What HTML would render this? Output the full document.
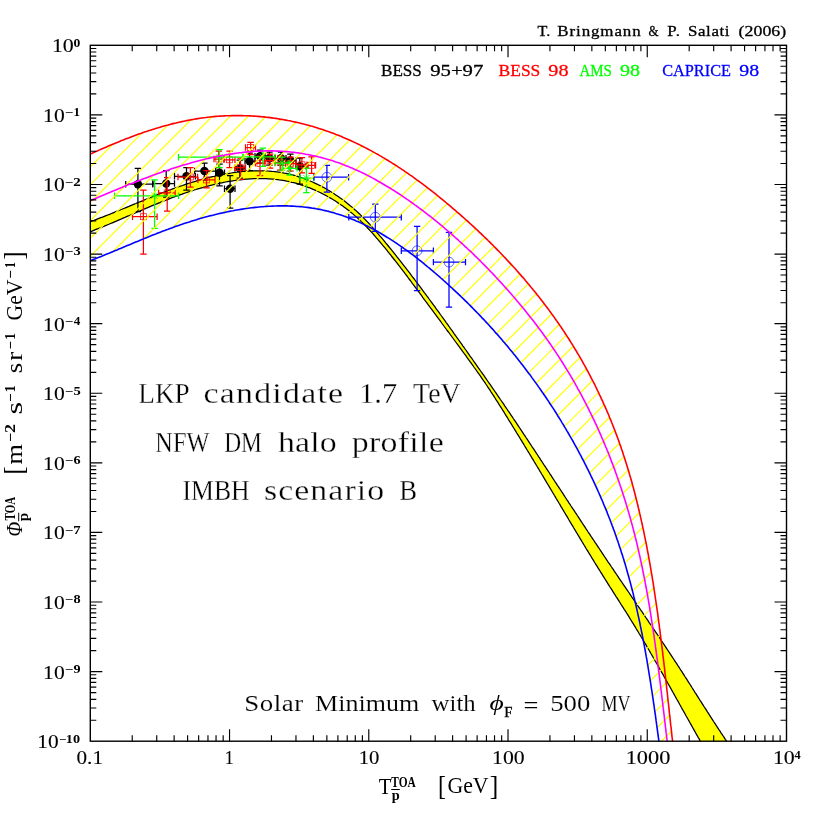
<!DOCTYPE html>
<html><head><meta charset="utf-8"><title>Antiproton flux</title>
<style>html,body{margin:0;padding:0;background:#fff;}svg{display:block;will-change:transform;}</style>
</head><body>
<svg width="830" height="830" viewBox="0 0 830 830">
<defs>
<clipPath id="fr"><rect x="90.3" y="45.3" width="696.2" height="695.9"/></clipPath>
<clipPath id="hc"><path d="M81.0 158.5 L82.8 157.6 L84.6 156.8 L86.4 156.0 L88.2 155.1 L90.0 154.3 L91.8 153.4 L93.6 152.6 L95.4 151.8 L97.3 151.0 L99.1 150.1 L100.9 149.3 L102.8 148.5 L104.6 147.7 L106.5 146.9 L108.3 146.1 L110.2 145.3 L112.1 144.5 L114.0 143.7 L115.8 142.9 L117.7 142.2 L119.6 141.4 L121.5 140.6 L123.4 139.9 L125.3 139.1 L127.2 138.4 L129.1 137.7 L131.0 136.9 L133.0 136.2 L134.9 135.5 L136.8 134.8 L138.7 134.1 L140.7 133.5 L142.6 132.8 L144.5 132.1 L146.5 131.5 L148.4 130.8 L150.4 130.2 L152.3 129.6 L154.3 128.9 L156.3 128.3 L158.2 127.8 L160.2 127.2 L162.1 126.6 L164.1 126.0 L166.1 125.5 L168.1 125.0 L170.0 124.4 L172.0 123.9 L174.0 123.4 L176.0 123.0 L178.0 122.5 L180.0 122.0 L181.9 121.6 L183.9 121.2 L185.9 120.8 L187.9 120.4 L189.9 120.0 L191.9 119.6 L193.9 119.3 L195.9 118.9 L197.9 118.6 L199.9 118.3 L201.9 118.0 L203.9 117.7 L205.9 117.5 L207.9 117.2 L209.9 117.0 L211.9 116.8 L213.9 116.6 L215.9 116.4 L218.0 116.3 L220.0 116.1 L222.0 116.0 L224.0 115.9 L226.0 115.8 L228.0 115.7 L230.0 115.7 L232.0 115.6 L234.0 115.6 L236.0 115.6 L238.0 115.6 L240.0 115.6 L242.0 115.6 L244.0 115.7 L246.0 115.7 L248.0 115.8 L250.0 115.9 L252.0 116.0 L254.0 116.1 L256.0 116.2 L258.0 116.4 L260.0 116.6 L262.0 116.8 L264.0 116.9 L266.0 117.2 L268.0 117.4 L270.0 117.6 L272.0 117.9 L273.9 118.2 L275.9 118.4 L277.9 118.7 L279.9 119.1 L281.9 119.4 L283.8 119.7 L285.8 120.1 L287.8 120.5 L289.7 120.8 L291.7 121.3 L293.6 121.7 L295.6 122.1 L297.5 122.5 L299.5 123.0 L301.4 123.5 L303.4 124.0 L305.3 124.5 L307.3 125.0 L309.2 125.5 L311.1 126.1 L313.0 126.6 L315.0 127.2 L316.9 127.8 L318.8 128.4 L320.7 129.0 L322.6 129.6 L324.5 130.2 L326.4 130.9 L328.3 131.6 L330.2 132.2 L332.1 132.9 L333.9 133.6 L335.8 134.4 L337.7 135.1 L339.6 135.8 L341.4 136.6 L343.3 137.4 L345.1 138.2 L347.0 139.0 L348.8 139.8 L350.6 140.6 L352.5 141.4 L354.3 142.3 L356.1 143.1 L357.9 144.0 L359.7 144.9 L361.5 145.8 L363.3 146.7 L365.1 147.6 L366.9 148.5 L368.7 149.5 L370.5 150.4 L372.3 151.4 L374.0 152.4 L375.8 153.4 L377.6 154.3 L379.3 155.4 L381.1 156.4 L382.8 157.4 L384.6 158.4 L386.3 159.5 L388.1 160.5 L389.8 161.6 L391.5 162.7 L393.2 163.8 L394.9 164.8 L396.7 165.9 L398.4 167.1 L400.1 168.2 L401.8 169.3 L403.5 170.4 L405.1 171.6 L406.8 172.7 L408.5 173.9 L410.2 175.1 L411.9 176.2 L413.5 177.4 L415.2 178.6 L416.8 179.8 L418.5 181.0 L420.1 182.2 L421.8 183.4 L423.4 184.7 L425.1 185.9 L426.7 187.1 L428.3 188.4 L429.9 189.6 L431.6 190.9 L433.2 192.2 L434.8 193.4 L436.4 194.7 L438.0 196.0 L439.6 197.3 L441.2 198.6 L442.8 199.9 L444.3 201.2 L445.9 202.5 L447.5 203.8 L449.1 205.1 L450.6 206.4 L452.2 207.8 L453.7 209.1 L455.3 210.4 L456.8 211.8 L458.4 213.1 L459.9 214.4 L461.5 215.8 L463.0 217.2 L464.5 218.5 L466.0 219.9 L467.6 221.2 L469.1 222.6 L470.6 224.0 L472.1 225.4 L473.6 226.7 L475.1 228.1 L476.6 229.5 L478.1 230.9 L479.5 232.3 L481.0 233.7 L482.5 235.1 L483.9 236.5 L485.4 237.9 L486.9 239.3 L488.3 240.8 L489.8 242.2 L491.2 243.6 L492.7 245.0 L494.1 246.5 L495.5 247.9 L496.9 249.4 L498.4 250.8 L499.8 252.3 L501.2 253.7 L502.6 255.2 L504.0 256.7 L505.4 258.1 L506.7 259.6 L508.1 261.1 L509.5 262.6 L510.9 264.1 L512.2 265.5 L513.6 267.0 L515.0 268.5 L516.3 270.0 L517.6 271.5 L519.0 273.1 L520.3 274.6 L521.6 276.1 L523.0 277.6 L524.3 279.1 L525.6 280.7 L526.9 282.2 L528.2 283.8 L529.5 285.3 L530.8 286.9 L532.1 288.4 L533.3 290.0 L534.6 291.5 L535.9 293.1 L537.1 294.7 L538.4 296.2 L539.6 297.8 L540.9 299.4 L542.1 301.0 L543.3 302.6 L544.5 304.2 L545.7 305.8 L547.0 307.4 L548.2 309.0 L549.4 310.6 L550.5 312.2 L551.7 313.9 L552.9 315.5 L554.1 317.1 L555.2 318.8 L556.4 320.4 L557.5 322.1 L558.7 323.7 L559.8 325.4 L561.0 327.0 L562.1 328.7 L563.2 330.4 L564.3 332.0 L565.4 333.7 L566.5 335.4 L567.6 337.1 L568.7 338.8 L569.8 340.5 L570.8 342.2 L571.9 343.9 L573.0 345.6 L574.0 347.3 L575.0 349.0 L576.1 350.7 L577.1 352.5 L578.1 354.2 L579.2 355.9 L580.2 357.7 L581.2 359.4 L582.2 361.2 L583.1 362.9 L584.1 364.7 L585.1 366.4 L586.1 368.2 L587.0 370.0 L588.0 371.7 L588.9 373.5 L589.9 375.3 L590.8 377.1 L591.7 378.9 L592.6 380.7 L593.6 382.4 L594.5 384.2 L595.4 386.0 L596.3 387.9 L597.1 389.7 L598.0 391.5 L598.9 393.3 L599.7 395.1 L600.6 396.9 L601.4 398.8 L602.3 400.6 L603.1 402.4 L603.9 404.3 L604.8 406.1 L605.6 407.9 L606.4 409.8 L607.2 411.6 L608.0 413.5 L608.8 415.3 L609.5 417.2 L610.3 419.1 L611.1 420.9 L611.8 422.8 L612.6 424.7 L613.3 426.5 L614.0 428.4 L614.8 430.3 L615.5 432.2 L616.2 434.1 L616.9 435.9 L617.6 437.8 L618.3 439.7 L619.0 441.6 L619.6 443.5 L620.3 445.4 L621.0 447.3 L621.6 449.2 L622.3 451.1 L622.9 453.1 L623.5 455.0 L624.2 456.9 L624.8 458.8 L625.4 460.7 L626.0 462.7 L626.6 464.6 L627.2 466.5 L627.8 468.4 L628.4 470.4 L629.0 472.3 L629.5 474.3 L630.1 476.2 L630.7 478.1 L631.2 480.1 L631.8 482.0 L632.3 484.0 L632.8 485.9 L633.4 487.9 L633.9 489.8 L634.4 491.8 L634.9 493.8 L635.4 495.7 L635.9 497.7 L636.4 499.6 L636.9 501.6 L637.4 503.6 L637.9 505.5 L638.3 507.5 L638.8 509.5 L639.3 511.5 L639.7 513.4 L640.2 515.4 L640.6 517.4 L641.1 519.4 L641.5 521.4 L642.0 523.3 L642.4 525.3 L642.8 527.3 L643.2 529.3 L643.7 531.3 L644.1 533.3 L644.5 535.3 L644.9 537.3 L645.3 539.3 L645.7 541.3 L646.1 543.2 L646.5 545.2 L646.9 547.2 L647.2 549.2 L647.6 551.2 L648.0 553.2 L648.4 555.2 L648.7 557.3 L649.1 559.3 L649.5 561.3 L649.8 563.3 L650.2 565.3 L650.5 567.3 L650.9 569.3 L651.2 571.3 L651.5 573.3 L651.9 575.3 L652.2 577.3 L652.5 579.3 L652.9 581.4 L653.2 583.4 L653.5 585.4 L653.8 587.4 L654.1 589.4 L654.4 591.4 L654.7 593.4 L655.0 595.5 L655.3 597.5 L655.6 599.5 L655.9 601.5 L656.2 603.5 L656.5 605.5 L656.8 607.6 L657.1 609.6 L657.4 611.6 L657.7 613.6 L657.9 615.6 L658.2 617.6 L658.5 619.7 L658.7 621.7 L659.0 623.7 L659.3 625.7 L659.5 627.7 L659.8 629.7 L660.1 631.8 L660.3 633.8 L660.6 635.8 L660.8 637.8 L661.1 639.8 L661.3 641.8 L661.6 643.9 L661.8 645.9 L662.1 647.9 L662.3 649.9 L662.6 651.9 L662.8 653.9 L663.0 655.9 L663.3 657.9 L663.5 660.0 L663.8 662.0 L664.0 664.0 L664.2 666.0 L664.5 668.0 L664.7 670.0 L664.9 672.0 L665.1 674.0 L665.4 676.0 L665.6 678.0 L665.8 680.0 L666.0 682.0 L666.3 684.0 L666.5 686.0 L666.7 688.0 L666.9 690.0 L667.2 692.0 L667.4 694.0 L667.6 696.0 L667.8 698.0 L668.0 700.0 L668.2 702.0 L668.5 704.0 L668.7 706.0 L668.9 707.9 L669.1 709.9 L669.3 711.9 L669.5 713.9 L669.8 715.9 L670.0 717.8 L670.2 719.8 L670.4 721.8 L670.6 723.8 L670.8 725.7 L671.1 727.7 L671.3 729.7 L671.5 731.7 L671.7 733.6 L671.9 735.6 L672.1 737.5 L672.4 739.5 L672.6 741.5 L672.8 743.4 L673.0 745.4 L673.2 747.3 L673.5 749.3 L673.7 751.2 L660.3 752.0 L660.1 750.2 L659.8 748.3 L659.6 746.5 L659.4 744.7 L659.1 742.8 L658.9 741.0 L658.6 739.1 L658.4 737.3 L658.1 735.5 L657.9 733.6 L657.6 731.8 L657.4 729.9 L657.1 728.1 L656.9 726.3 L656.6 724.4 L656.4 722.6 L656.1 720.7 L655.9 718.9 L655.6 717.1 L655.4 715.2 L655.1 713.4 L654.8 711.5 L654.6 709.7 L654.3 707.9 L654.1 706.0 L653.8 704.2 L653.5 702.3 L653.3 700.5 L653.0 698.7 L652.7 696.8 L652.4 695.0 L652.2 693.1 L651.9 691.3 L651.6 689.5 L651.3 687.6 L651.0 685.8 L650.8 684.0 L650.5 682.1 L650.2 680.3 L649.9 678.4 L649.6 676.6 L649.3 674.8 L649.0 672.9 L648.7 671.1 L648.4 669.3 L648.1 667.4 L647.8 665.6 L647.5 663.8 L647.2 661.9 L646.9 660.1 L646.6 658.3 L646.2 656.4 L645.9 654.6 L645.6 652.8 L645.3 651.0 L644.9 649.1 L644.6 647.3 L644.3 645.5 L643.9 643.7 L643.6 641.8 L643.2 640.0 L642.9 638.2 L642.5 636.4 L642.2 634.5 L641.8 632.7 L641.4 630.9 L641.1 629.1 L640.7 627.3 L640.3 625.4 L640.0 623.6 L639.6 621.8 L639.2 620.0 L638.8 618.2 L638.4 616.4 L638.0 614.6 L637.6 612.8 L637.2 610.9 L636.8 609.1 L636.4 607.3 L636.0 605.5 L635.6 603.7 L635.1 601.9 L634.7 600.1 L634.3 598.3 L633.8 596.5 L633.4 594.7 L633.0 592.9 L632.5 591.1 L632.0 589.3 L631.6 587.5 L631.1 585.7 L630.7 583.9 L630.2 582.2 L629.7 580.4 L629.2 578.6 L628.7 576.8 L628.2 575.0 L627.7 573.2 L627.2 571.4 L626.7 569.7 L626.2 567.9 L625.7 566.1 L625.2 564.3 L624.6 562.6 L624.1 560.8 L623.6 559.0 L623.0 557.2 L622.5 555.5 L621.9 553.7 L621.3 551.9 L620.8 550.2 L620.2 548.4 L619.6 546.7 L619.0 544.9 L618.4 543.1 L617.9 541.4 L617.2 539.6 L616.6 537.9 L616.0 536.1 L615.4 534.4 L614.8 532.6 L614.2 530.9 L613.5 529.2 L612.9 527.4 L612.2 525.7 L611.6 523.9 L610.9 522.2 L610.3 520.5 L609.6 518.7 L608.9 517.0 L608.2 515.3 L607.5 513.6 L606.9 511.8 L606.2 510.1 L605.5 508.4 L604.7 506.7 L604.0 505.0 L603.3 503.3 L602.6 501.5 L601.9 499.8 L601.1 498.1 L600.4 496.4 L599.6 494.7 L598.9 493.0 L598.1 491.3 L597.4 489.6 L596.6 487.9 L595.8 486.2 L595.1 484.6 L594.3 482.9 L593.5 481.2 L592.7 479.5 L591.9 477.8 L591.1 476.2 L590.3 474.5 L589.5 472.8 L588.7 471.1 L587.8 469.5 L587.0 467.8 L586.2 466.1 L585.3 464.5 L584.5 462.8 L583.7 461.2 L582.8 459.5 L581.9 457.9 L581.1 456.2 L580.2 454.6 L579.3 452.9 L578.5 451.3 L577.6 449.7 L576.7 448.0 L575.8 446.4 L574.9 444.8 L574.0 443.2 L573.1 441.5 L572.2 439.9 L571.3 438.3 L570.3 436.7 L569.4 435.1 L568.5 433.5 L567.6 431.9 L566.6 430.3 L565.7 428.7 L564.7 427.1 L563.8 425.5 L562.8 423.9 L561.8 422.3 L560.9 420.7 L559.9 419.1 L558.9 417.5 L557.9 416.0 L557.0 414.4 L556.0 412.8 L555.0 411.3 L554.0 409.7 L553.0 408.1 L552.0 406.6 L550.9 405.0 L549.9 403.5 L548.9 401.9 L547.9 400.4 L546.8 398.8 L545.8 397.3 L544.8 395.8 L543.7 394.2 L542.7 392.7 L541.6 391.2 L540.6 389.7 L539.5 388.1 L538.4 386.6 L537.4 385.1 L536.3 383.6 L535.2 382.1 L534.1 380.6 L533.0 379.1 L531.9 377.6 L530.9 376.1 L529.8 374.6 L528.6 373.2 L527.5 371.7 L526.4 370.2 L525.3 368.7 L524.2 367.3 L523.1 365.8 L521.9 364.3 L520.8 362.9 L519.7 361.4 L518.5 360.0 L517.4 358.5 L516.2 357.1 L515.1 355.6 L513.9 354.2 L512.8 352.8 L511.6 351.3 L510.4 349.9 L509.2 348.5 L508.1 347.1 L506.9 345.6 L505.7 344.2 L504.5 342.8 L503.3 341.4 L502.1 340.0 L500.9 338.6 L499.7 337.2 L498.5 335.8 L497.3 334.4 L496.0 333.1 L494.8 331.7 L493.6 330.3 L492.4 328.9 L491.1 327.6 L489.9 326.2 L488.6 324.8 L487.4 323.5 L486.1 322.1 L484.9 320.8 L483.6 319.4 L482.3 318.1 L481.1 316.7 L479.8 315.4 L478.5 314.0 L477.2 312.7 L475.9 311.4 L474.6 310.1 L473.3 308.7 L472.0 307.4 L470.7 306.1 L469.4 304.8 L468.1 303.5 L466.8 302.2 L465.4 300.9 L464.1 299.6 L462.8 298.3 L461.4 297.0 L460.1 295.7 L458.7 294.4 L457.4 293.1 L456.0 291.8 L454.7 290.6 L453.3 289.3 L451.9 288.0 L450.6 286.8 L449.2 285.5 L447.8 284.2 L446.4 283.0 L445.0 281.7 L443.6 280.5 L442.2 279.2 L440.8 278.0 L439.4 276.7 L438.0 275.5 L436.6 274.3 L435.1 273.0 L433.7 271.8 L432.3 270.6 L430.8 269.4 L429.4 268.2 L427.9 267.0 L426.5 265.8 L425.0 264.6 L423.6 263.4 L422.1 262.2 L420.6 261.0 L419.1 259.9 L417.7 258.7 L416.2 257.5 L414.7 256.4 L413.2 255.2 L411.7 254.1 L410.2 253.0 L408.7 251.9 L407.1 250.7 L405.6 249.6 L404.1 248.6 L402.6 247.5 L401.0 246.4 L399.5 245.3 L398.0 244.3 L396.4 243.2 L394.8 242.2 L393.3 241.2 L391.7 240.1 L390.2 239.1 L388.6 238.1 L387.0 237.2 L385.4 236.2 L383.8 235.2 L382.2 234.3 L380.6 233.3 L379.0 232.4 L377.4 231.5 L375.8 230.6 L374.2 229.7 L372.6 228.8 L371.0 228.0 L369.3 227.1 L367.7 226.3 L366.0 225.5 L364.4 224.7 L362.7 223.9 L361.1 223.1 L359.4 222.3 L357.8 221.6 L356.1 220.9 L354.4 220.1 L352.7 219.4 L351.0 218.8 L349.3 218.1 L347.6 217.4 L345.9 216.8 L344.2 216.2 L342.5 215.6 L340.8 215.0 L339.1 214.4 L337.3 213.9 L335.6 213.4 L333.9 212.8 L332.1 212.4 L330.4 211.9 L328.6 211.4 L326.9 211.0 L325.1 210.6 L323.3 210.2 L321.6 209.8 L319.8 209.4 L318.0 209.1 L316.2 208.8 L314.4 208.4 L312.6 208.2 L310.8 207.9 L309.0 207.6 L307.2 207.4 L305.4 207.2 L303.6 207.0 L301.8 206.8 L299.9 206.6 L298.1 206.5 L296.3 206.4 L294.4 206.2 L292.6 206.1 L290.8 206.1 L288.9 206.0 L287.1 205.9 L285.2 205.9 L283.4 205.9 L281.5 205.9 L279.7 205.9 L277.8 205.9 L276.0 206.0 L274.1 206.0 L272.3 206.1 L270.4 206.2 L268.5 206.3 L266.7 206.4 L264.8 206.5 L263.0 206.7 L261.1 206.8 L259.2 207.0 L257.4 207.2 L255.5 207.4 L253.6 207.6 L251.8 207.8 L249.9 208.0 L248.0 208.3 L246.2 208.5 L244.3 208.8 L242.5 209.1 L240.6 209.4 L238.7 209.7 L236.9 210.0 L235.0 210.3 L233.2 210.7 L231.3 211.0 L229.4 211.4 L227.6 211.8 L225.7 212.2 L223.9 212.6 L222.0 213.0 L220.2 213.4 L218.4 213.8 L216.5 214.2 L214.7 214.7 L212.8 215.2 L211.0 215.6 L209.2 216.1 L207.4 216.6 L205.5 217.1 L203.7 217.6 L201.9 218.1 L200.1 218.6 L198.3 219.1 L196.5 219.7 L194.7 220.2 L192.9 220.7 L191.1 221.3 L189.3 221.9 L187.5 222.4 L185.8 223.0 L184.0 223.6 L182.2 224.2 L180.5 224.8 L178.7 225.4 L176.9 226.0 L175.2 226.6 L173.5 227.3 L171.7 227.9 L170.0 228.5 L168.2 229.2 L166.5 229.8 L164.8 230.5 L163.1 231.1 L161.3 231.8 L159.6 232.4 L157.9 233.1 L156.2 233.8 L154.5 234.4 L152.8 235.1 L151.0 235.8 L149.3 236.5 L147.6 237.2 L145.9 237.9 L144.2 238.6 L142.5 239.3 L140.8 240.0 L139.1 240.7 L137.4 241.4 L135.7 242.1 L134.0 242.8 L132.3 243.5 L130.7 244.2 L129.0 244.9 L127.3 245.6 L125.6 246.3 L123.9 247.0 L122.2 247.7 L120.5 248.4 L118.8 249.1 L117.1 249.9 L115.4 250.6 L113.7 251.3 L112.0 252.0 L110.2 252.7 L108.5 253.4 L106.8 254.1 L105.1 254.8 L103.4 255.5 L101.7 256.2 L100.0 256.9 L98.2 257.6 L96.5 258.2 L94.8 258.9 L93.0 259.6 L91.3 260.3 L89.6 261.0 L87.8 261.6 L86.1 262.3 L84.3 263.0 L82.6 263.6 L80.8 264.3Z"/></clipPath>
</defs>
<rect width="830" height="830" fill="#fff"/>
<g clip-path="url(#fr)">
<path d="M80.7 225.0 L82.6 224.4 L84.4 223.8 L86.2 223.1 L88.1 222.5 L89.9 221.8 L91.7 221.1 L93.5 220.5 L95.3 219.8 L97.1 219.1 L98.9 218.4 L100.7 217.7 L102.5 217.1 L104.3 216.4 L106.0 215.7 L107.8 215.0 L109.6 214.3 L111.4 213.5 L113.1 212.8 L114.9 212.1 L116.7 211.4 L118.4 210.7 L120.2 210.0 L121.9 209.3 L123.7 208.5 L125.4 207.8 L127.2 207.1 L128.9 206.4 L130.7 205.6 L132.4 204.9 L134.2 204.2 L135.9 203.5 L137.7 202.7 L139.5 202.0 L141.2 201.3 L143.0 200.6 L144.7 199.8 L146.5 199.1 L148.2 198.4 L150.0 197.7 L151.8 197.0 L153.5 196.3 L155.3 195.5 L157.1 194.8 L158.9 194.1 L160.7 193.4 L162.4 192.7 L164.2 192.1 L166.0 191.4 L167.8 190.7 L169.6 190.0 L171.4 189.4 L173.3 188.7 L175.1 188.0 L176.9 187.4 L178.7 186.7 L180.6 186.1 L182.4 185.5 L184.3 184.8 L186.1 184.2 L188.0 183.6 L189.8 183.0 L191.7 182.4 L193.5 181.9 L195.4 181.3 L197.3 180.7 L199.1 180.2 L201.0 179.7 L202.9 179.1 L204.8 178.6 L206.7 178.1 L208.6 177.7 L210.5 177.2 L212.3 176.7 L214.2 176.3 L216.1 175.8 L218.0 175.4 L219.9 175.0 L221.8 174.6 L223.7 174.3 L225.6 173.9 L227.5 173.6 L229.4 173.3 L231.3 173.0 L233.2 172.7 L235.1 172.4 L237.1 172.2 L239.0 171.9 L240.9 171.7 L242.8 171.5 L244.7 171.4 L246.6 171.2 L248.5 171.1 L250.4 171.0 L252.3 170.9 L254.2 170.8 L256.1 170.8 L257.9 170.8 L259.8 170.8 L261.7 170.8 L263.6 170.8 L265.5 170.9 L267.4 171.0 L269.3 171.1 L271.1 171.3 L273.0 171.5 L274.9 171.7 L276.7 171.9 L278.6 172.1 L280.5 172.4 L282.3 172.7 L284.2 173.1 L286.0 173.4 L287.9 173.8 L289.7 174.2 L291.5 174.7 L293.4 175.2 L295.2 175.7 L297.0 176.2 L298.8 176.8 L300.6 177.4 L302.4 178.0 L304.2 178.7 L306.0 179.3 L307.8 180.0 L309.5 180.7 L311.3 181.5 L313.1 182.3 L314.8 183.1 L316.5 183.9 L318.3 184.7 L320.0 185.6 L321.7 186.5 L323.4 187.4 L325.1 188.3 L326.8 189.3 L328.4 190.3 L330.1 191.3 L331.7 192.3 L333.4 193.3 L335.0 194.4 L336.6 195.5 L338.2 196.6 L339.8 197.7 L341.4 198.8 L342.9 199.9 L344.5 201.1 L346.0 202.3 L347.5 203.5 L349.0 204.7 L350.5 205.9 L352.0 207.1 L353.4 208.4 L354.9 209.7 L356.3 210.9 L357.7 212.2 L359.1 213.5 L360.5 214.9 L361.8 216.2 L363.2 217.5 L364.5 218.9 L365.9 220.2 L367.2 221.6 L368.5 223.0 L369.8 224.4 L371.1 225.8 L372.3 227.2 L373.6 228.6 L374.9 230.0 L376.1 231.4 L377.3 232.9 L378.6 234.3 L379.8 235.8 L381.0 237.2 L382.3 238.7 L383.5 240.1 L384.7 241.6 L385.9 243.1 L387.1 244.5 L388.3 246.0 L389.5 247.5 L390.7 248.9 L391.9 250.4 L393.1 251.9 L394.3 253.4 L395.5 254.9 L396.6 256.4 L397.8 257.9 L399.0 259.4 L400.2 260.9 L401.4 262.4 L402.5 263.9 L403.7 265.4 L404.9 266.9 L406.1 268.4 L407.2 269.9 L408.4 271.4 L409.6 272.9 L410.7 274.4 L411.9 276.0 L413.0 277.5 L414.2 279.0 L415.3 280.5 L416.5 282.1 L417.7 283.6 L418.8 285.1 L420.0 286.7 L421.1 288.2 L422.2 289.7 L423.4 291.3 L424.5 292.8 L425.7 294.3 L426.8 295.9 L428.0 297.4 L429.1 299.0 L430.2 300.5 L431.4 302.1 L432.5 303.6 L433.6 305.2 L434.8 306.7 L435.9 308.3 L437.0 309.8 L438.2 311.4 L439.3 312.9 L440.4 314.5 L441.5 316.0 L442.7 317.6 L443.8 319.2 L444.9 320.7 L446.0 322.3 L447.2 323.9 L448.3 325.4 L449.4 327.0 L450.5 328.6 L451.7 330.1 L452.8 331.7 L453.9 333.3 L455.0 334.8 L456.1 336.4 L457.3 338.0 L458.4 339.5 L459.5 341.1 L460.6 342.7 L461.7 344.2 L462.8 345.8 L464.0 347.4 L465.1 349.0 L466.2 350.5 L467.3 352.1 L468.4 353.7 L469.5 355.3 L470.6 356.8 L471.8 358.4 L472.9 360.0 L474.0 361.6 L475.1 363.1 L476.2 364.7 L477.3 366.3 L478.4 367.9 L479.5 369.4 L480.6 371.0 L481.8 372.6 L482.9 374.2 L484.0 375.7 L485.1 377.3 L486.2 378.9 L487.3 380.5 L488.4 382.1 L489.5 383.6 L490.6 385.2 L491.7 386.8 L492.8 388.4 L493.9 390.0 L495.0 391.6 L496.1 393.1 L497.1 394.7 L498.2 396.3 L499.3 397.9 L500.4 399.5 L501.5 401.0 L502.6 402.6 L503.7 404.2 L504.7 405.8 L505.8 407.4 L506.9 409.0 L508.0 410.6 L509.1 412.1 L510.1 413.7 L511.2 415.3 L512.3 416.9 L513.3 418.5 L514.4 420.1 L515.5 421.7 L516.5 423.2 L517.6 424.8 L518.6 426.4 L519.7 428.0 L520.8 429.6 L521.8 431.2 L522.9 432.8 L523.9 434.4 L525.0 435.9 L526.0 437.5 L527.1 439.1 L528.1 440.7 L529.2 442.3 L530.2 443.9 L531.3 445.5 L532.3 447.1 L533.4 448.7 L534.4 450.2 L535.5 451.8 L536.5 453.4 L537.6 455.0 L538.6 456.6 L539.7 458.2 L540.7 459.8 L541.8 461.4 L542.8 463.0 L543.8 464.6 L544.9 466.1 L545.9 467.7 L547.0 469.3 L548.0 470.9 L549.1 472.5 L550.1 474.1 L551.2 475.7 L552.2 477.3 L553.2 478.9 L554.3 480.5 L555.3 482.1 L556.4 483.7 L557.4 485.3 L558.5 486.8 L559.5 488.4 L560.6 490.0 L561.6 491.6 L562.7 493.2 L563.7 494.8 L564.7 496.4 L565.8 498.0 L566.8 499.6 L567.9 501.2 L568.9 502.8 L570.0 504.4 L571.0 506.0 L572.1 507.6 L573.1 509.2 L574.2 510.7 L575.2 512.3 L576.3 513.9 L577.3 515.5 L578.4 517.1 L579.4 518.7 L580.5 520.3 L581.5 521.9 L582.6 523.5 L583.6 525.1 L584.7 526.7 L585.7 528.3 L586.8 529.9 L587.8 531.5 L588.9 533.1 L590.0 534.7 L591.0 536.3 L592.1 537.8 L593.1 539.4 L594.2 541.0 L595.2 542.6 L596.3 544.2 L597.4 545.8 L598.4 547.4 L599.5 549.0 L600.6 550.6 L601.6 552.2 L602.7 553.8 L603.7 555.4 L604.8 557.0 L605.9 558.6 L606.9 560.2 L608.0 561.8 L609.1 563.3 L610.2 564.9 L611.2 566.5 L612.3 568.1 L613.4 569.7 L614.4 571.3 L615.5 572.9 L616.6 574.5 L617.7 576.1 L618.7 577.7 L619.8 579.3 L620.9 580.9 L622.0 582.5 L623.1 584.1 L624.1 585.6 L625.2 587.2 L626.3 588.8 L627.4 590.4 L628.5 592.0 L629.6 593.6 L630.6 595.2 L631.7 596.8 L632.8 598.4 L633.9 600.0 L635.0 601.6 L636.1 603.2 L637.1 604.8 L638.2 606.3 L639.3 607.9 L640.4 609.5 L641.5 611.1 L642.6 612.7 L643.6 614.3 L644.7 615.9 L645.8 617.5 L646.9 619.1 L648.0 620.7 L649.0 622.3 L650.1 623.9 L651.2 625.5 L652.3 627.1 L653.4 628.6 L654.4 630.2 L655.5 631.8 L656.6 633.4 L657.7 635.0 L658.7 636.6 L659.8 638.2 L660.9 639.8 L661.9 641.4 L663.0 643.0 L664.1 644.6 L665.1 646.2 L666.2 647.8 L667.2 649.4 L668.3 651.0 L669.4 652.6 L670.4 654.2 L671.5 655.8 L672.5 657.4 L673.6 659.0 L674.6 660.6 L675.6 662.2 L676.7 663.7 L677.7 665.3 L678.8 666.9 L679.8 668.5 L680.8 670.1 L681.9 671.7 L682.9 673.3 L683.9 674.9 L684.9 676.5 L686.0 678.1 L687.0 679.7 L688.0 681.3 L689.0 682.9 L690.1 684.5 L691.1 686.1 L692.1 687.8 L693.1 689.4 L694.1 691.0 L695.1 692.6 L696.2 694.2 L697.2 695.8 L698.2 697.4 L699.2 699.0 L700.2 700.6 L701.3 702.2 L702.3 703.8 L703.3 705.4 L704.3 707.0 L705.4 708.6 L706.4 710.2 L707.4 711.8 L708.5 713.4 L709.5 715.1 L710.5 716.7 L711.6 718.3 L712.6 719.9 L713.6 721.5 L714.7 723.1 L715.7 724.7 L716.8 726.3 L717.8 727.9 L718.9 729.6 L720.0 731.2 L721.0 732.8 L722.1 734.4 L723.2 736.0 L724.3 737.6 L725.3 739.3 L726.4 740.9 L727.5 742.5 L728.6 744.1 L729.7 745.7 L730.8 747.3 L731.9 749.0 L733.0 750.6 L734.2 752.2 L706.7 752.4 L705.7 750.7 L704.8 749.0 L703.8 747.3 L702.9 745.6 L701.9 743.9 L701.0 742.3 L700.0 740.6 L699.1 738.9 L698.1 737.2 L697.2 735.6 L696.2 733.9 L695.3 732.2 L694.4 730.6 L693.4 728.9 L692.5 727.2 L691.6 725.6 L690.6 723.9 L689.7 722.3 L688.8 720.6 L687.9 719.0 L686.9 717.3 L686.0 715.7 L685.1 714.0 L684.2 712.4 L683.2 710.7 L682.3 709.1 L681.4 707.5 L680.5 705.8 L679.6 704.2 L678.7 702.5 L677.8 700.9 L676.8 699.3 L675.9 697.6 L675.0 696.0 L674.1 694.4 L673.2 692.8 L672.3 691.1 L671.4 689.5 L670.5 687.9 L669.6 686.3 L668.6 684.6 L667.7 683.0 L666.8 681.4 L665.9 679.8 L665.0 678.2 L664.1 676.6 L663.2 674.9 L662.3 673.3 L661.3 671.7 L660.4 670.1 L659.5 668.5 L658.6 666.9 L657.7 665.3 L656.8 663.7 L655.9 662.1 L654.9 660.5 L654.0 658.9 L653.1 657.3 L652.2 655.6 L651.2 654.0 L650.3 652.4 L649.4 650.8 L648.5 649.2 L647.5 647.6 L646.6 646.0 L645.7 644.4 L644.7 642.8 L643.8 641.2 L642.8 639.6 L641.9 638.0 L640.9 636.5 L640.0 634.9 L639.0 633.3 L638.1 631.7 L637.1 630.1 L636.1 628.5 L635.2 626.9 L634.2 625.3 L633.2 623.7 L632.2 622.1 L631.2 620.5 L630.2 618.9 L629.3 617.3 L628.3 615.7 L627.3 614.1 L626.3 612.5 L625.3 610.9 L624.2 609.3 L623.2 607.7 L622.2 606.1 L621.2 604.6 L620.2 603.0 L619.2 601.4 L618.2 599.8 L617.2 598.2 L616.1 596.6 L615.1 595.0 L614.1 593.4 L613.1 591.8 L612.1 590.2 L611.1 588.6 L610.0 587.0 L609.0 585.4 L608.0 583.8 L607.0 582.2 L606.0 580.6 L605.0 579.0 L604.0 577.4 L603.0 575.8 L602.0 574.2 L601.0 572.6 L600.0 571.0 L599.0 569.4 L598.0 567.8 L597.0 566.2 L596.0 564.6 L595.0 563.0 L594.0 561.3 L593.0 559.7 L592.0 558.1 L591.1 556.5 L590.1 554.9 L589.1 553.3 L588.1 551.7 L587.1 550.1 L586.1 548.5 L585.2 546.9 L584.2 545.3 L583.2 543.6 L582.2 542.0 L581.3 540.4 L580.3 538.8 L579.3 537.2 L578.4 535.6 L577.4 534.0 L576.4 532.4 L575.5 530.7 L574.5 529.1 L573.5 527.5 L572.6 525.9 L571.6 524.3 L570.6 522.7 L569.7 521.1 L568.7 519.5 L567.8 517.8 L566.8 516.2 L565.8 514.6 L564.9 513.0 L563.9 511.4 L563.0 509.8 L562.0 508.2 L561.0 506.6 L560.1 504.9 L559.1 503.3 L558.2 501.7 L557.2 500.1 L556.2 498.5 L555.3 496.9 L554.3 495.3 L553.4 493.7 L552.4 492.0 L551.4 490.4 L550.5 488.8 L549.5 487.2 L548.6 485.6 L547.6 484.0 L546.6 482.4 L545.7 480.8 L544.7 479.2 L543.8 477.6 L542.8 475.9 L541.8 474.3 L540.9 472.7 L539.9 471.1 L539.0 469.5 L538.0 467.9 L537.0 466.3 L536.1 464.7 L535.1 463.1 L534.1 461.5 L533.2 459.9 L532.2 458.3 L531.2 456.7 L530.3 455.1 L529.3 453.5 L528.3 451.9 L527.3 450.3 L526.4 448.7 L525.4 447.1 L524.4 445.5 L523.5 443.9 L522.5 442.3 L521.5 440.7 L520.5 439.1 L519.6 437.5 L518.6 435.9 L517.6 434.3 L516.6 432.7 L515.7 431.2 L514.7 429.6 L513.7 428.0 L512.7 426.4 L511.8 424.8 L510.8 423.2 L509.8 421.6 L508.8 420.1 L507.9 418.5 L506.9 416.9 L505.9 415.3 L504.9 413.7 L504.0 412.2 L503.0 410.6 L502.0 409.0 L501.0 407.4 L500.0 405.9 L499.0 404.3 L498.0 402.7 L497.0 401.1 L496.0 399.6 L495.0 398.0 L494.0 396.4 L493.0 394.9 L492.0 393.3 L491.0 391.8 L490.0 390.2 L488.9 388.6 L487.9 387.1 L486.9 385.5 L485.8 384.0 L484.8 382.4 L483.7 380.9 L482.6 379.3 L481.6 377.8 L480.5 376.2 L479.4 374.7 L478.3 373.1 L477.2 371.6 L476.1 370.0 L475.0 368.5 L473.9 367.0 L472.8 365.4 L471.7 363.9 L470.6 362.3 L469.5 360.8 L468.4 359.3 L467.3 357.8 L466.2 356.2 L465.1 354.7 L463.9 353.2 L462.8 351.7 L461.7 350.1 L460.6 348.6 L459.5 347.1 L458.4 345.6 L457.3 344.1 L456.1 342.5 L455.0 341.0 L453.9 339.5 L452.8 338.0 L451.7 336.5 L450.6 335.0 L449.5 333.5 L448.4 332.0 L447.2 330.5 L446.1 329.0 L445.0 327.5 L443.9 326.0 L442.8 324.5 L441.7 323.0 L440.6 321.4 L439.5 319.9 L438.3 318.4 L437.2 316.9 L436.1 315.4 L435.0 313.9 L433.9 312.4 L432.8 310.9 L431.7 309.4 L430.5 307.9 L429.4 306.4 L428.3 304.9 L427.2 303.3 L426.1 301.8 L424.9 300.3 L423.8 298.8 L422.7 297.3 L421.6 295.7 L420.5 294.2 L419.3 292.7 L418.2 291.2 L417.1 289.7 L415.9 288.1 L414.8 286.6 L413.7 285.1 L412.5 283.6 L411.4 282.0 L410.3 280.5 L409.1 279.0 L408.0 277.5 L406.9 276.0 L405.7 274.5 L404.6 272.9 L403.4 271.4 L402.3 269.9 L401.1 268.4 L400.0 266.9 L398.8 265.4 L397.7 263.9 L396.5 262.4 L395.3 260.9 L394.2 259.5 L393.0 258.0 L391.8 256.5 L390.7 255.0 L389.5 253.6 L388.3 252.1 L387.2 250.6 L386.0 249.2 L384.8 247.7 L383.6 246.3 L382.4 244.9 L381.2 243.4 L380.0 242.0 L378.8 240.6 L377.6 239.2 L376.4 237.8 L375.2 236.4 L374.0 235.0 L372.8 233.6 L371.6 232.2 L370.3 230.9 L369.1 229.5 L367.8 228.2 L366.5 226.8 L365.3 225.5 L364.0 224.2 L362.7 222.9 L361.3 221.6 L360.0 220.3 L358.7 219.1 L357.3 217.8 L355.9 216.6 L354.5 215.4 L353.1 214.1 L351.7 212.9 L350.2 211.8 L348.8 210.6 L347.3 209.4 L345.8 208.3 L344.3 207.2 L342.8 206.1 L341.2 205.0 L339.7 203.9 L338.1 202.9 L336.5 201.8 L335.0 200.8 L333.3 199.8 L331.7 198.8 L330.1 197.9 L328.5 196.9 L326.8 196.0 L325.2 195.1 L323.5 194.2 L321.8 193.4 L320.1 192.5 L318.4 191.7 L316.7 190.9 L315.0 190.1 L313.2 189.4 L311.5 188.6 L309.8 187.9 L308.0 187.3 L306.2 186.6 L304.5 186.0 L302.7 185.4 L300.9 184.8 L299.1 184.2 L297.4 183.7 L295.6 183.2 L293.8 182.7 L292.0 182.3 L290.1 181.8 L288.3 181.4 L286.5 181.1 L284.7 180.7 L282.9 180.4 L281.1 180.1 L279.2 179.9 L277.4 179.6 L275.6 179.4 L273.7 179.2 L271.9 179.1 L270.1 178.9 L268.2 178.8 L266.4 178.7 L264.5 178.7 L262.7 178.6 L260.8 178.6 L259.0 178.6 L257.1 178.6 L255.3 178.7 L253.4 178.7 L251.5 178.8 L249.7 178.9 L247.8 179.1 L246.0 179.2 L244.1 179.4 L242.2 179.6 L240.4 179.8 L238.5 180.0 L236.7 180.2 L234.8 180.5 L232.9 180.8 L231.1 181.1 L229.2 181.4 L227.4 181.7 L225.5 182.0 L223.7 182.4 L221.8 182.8 L220.0 183.2 L218.1 183.6 L216.2 184.0 L214.4 184.4 L212.6 184.9 L210.7 185.3 L208.9 185.8 L207.0 186.3 L205.2 186.8 L203.4 187.3 L201.5 187.8 L199.7 188.4 L197.9 188.9 L196.0 189.5 L194.2 190.0 L192.4 190.6 L190.6 191.2 L188.8 191.8 L187.0 192.4 L185.2 193.0 L183.4 193.6 L181.6 194.3 L179.8 194.9 L178.0 195.6 L176.2 196.2 L174.4 196.9 L172.6 197.5 L170.9 198.2 L169.1 198.9 L167.4 199.6 L165.6 200.3 L163.9 201.0 L162.1 201.6 L160.4 202.4 L158.6 203.1 L156.9 203.8 L155.2 204.5 L153.4 205.2 L151.7 205.9 L150.0 206.6 L148.3 207.4 L146.5 208.1 L144.8 208.8 L143.1 209.6 L141.4 210.3 L139.7 211.0 L138.0 211.8 L136.3 212.5 L134.6 213.2 L132.8 214.0 L131.1 214.7 L129.4 215.5 L127.7 216.2 L126.0 216.9 L124.3 217.7 L122.6 218.4 L120.9 219.2 L119.2 219.9 L117.4 220.6 L115.7 221.4 L114.0 222.1 L112.3 222.8 L110.6 223.5 L108.8 224.3 L107.1 225.0 L105.4 225.7 L103.7 226.4 L101.9 227.1 L100.2 227.8 L98.4 228.5 L96.7 229.2 L94.9 229.9 L93.2 230.6 L91.4 231.3 L89.7 231.9 L87.9 232.6 L86.1 233.3 L84.3 233.9 L82.6 234.6 L80.8 235.2Z" fill="#ffff00" stroke="none"/>
<path d="M80.7 225.0 L82.6 224.4 L84.4 223.8 L86.2 223.1 L88.1 222.5 L89.9 221.8 L91.7 221.1 L93.5 220.5 L95.3 219.8 L97.1 219.1 L98.9 218.4 L100.7 217.7 L102.5 217.1 L104.3 216.4 L106.0 215.7 L107.8 215.0 L109.6 214.3 L111.4 213.5 L113.1 212.8 L114.9 212.1 L116.7 211.4 L118.4 210.7 L120.2 210.0 L121.9 209.3 L123.7 208.5 L125.4 207.8 L127.2 207.1 L128.9 206.4 L130.7 205.6 L132.4 204.9 L134.2 204.2 L135.9 203.5 L137.7 202.7 L139.5 202.0 L141.2 201.3 L143.0 200.6 L144.7 199.8 L146.5 199.1 L148.2 198.4 L150.0 197.7 L151.8 197.0 L153.5 196.3 L155.3 195.5 L157.1 194.8 L158.9 194.1 L160.7 193.4 L162.4 192.7 L164.2 192.1 L166.0 191.4 L167.8 190.7 L169.6 190.0 L171.4 189.4 L173.3 188.7 L175.1 188.0 L176.9 187.4 L178.7 186.7 L180.6 186.1 L182.4 185.5 L184.3 184.8 L186.1 184.2 L188.0 183.6 L189.8 183.0 L191.7 182.4 L193.5 181.9 L195.4 181.3 L197.3 180.7 L199.1 180.2 L201.0 179.7 L202.9 179.1 L204.8 178.6 L206.7 178.1 L208.6 177.7 L210.5 177.2 L212.3 176.7 L214.2 176.3 L216.1 175.8 L218.0 175.4 L219.9 175.0 L221.8 174.6 L223.7 174.3 L225.6 173.9 L227.5 173.6 L229.4 173.3 L231.3 173.0 L233.2 172.7 L235.1 172.4 L237.1 172.2 L239.0 171.9 L240.9 171.7 L242.8 171.5 L244.7 171.4 L246.6 171.2 L248.5 171.1 L250.4 171.0 L252.3 170.9 L254.2 170.8 L256.1 170.8 L257.9 170.8 L259.8 170.8 L261.7 170.8 L263.6 170.8 L265.5 170.9 L267.4 171.0 L269.3 171.1 L271.1 171.3 L273.0 171.5 L274.9 171.7 L276.7 171.9 L278.6 172.1 L280.5 172.4 L282.3 172.7 L284.2 173.1 L286.0 173.4 L287.9 173.8 L289.7 174.2 L291.5 174.7 L293.4 175.2 L295.2 175.7 L297.0 176.2 L298.8 176.8 L300.6 177.4 L302.4 178.0 L304.2 178.7 L306.0 179.3 L307.8 180.0 L309.5 180.7 L311.3 181.5 L313.1 182.3 L314.8 183.1 L316.5 183.9 L318.3 184.7 L320.0 185.6 L321.7 186.5 L323.4 187.4 L325.1 188.3 L326.8 189.3 L328.4 190.3 L330.1 191.3 L331.7 192.3 L333.4 193.3 L335.0 194.4 L336.6 195.5 L338.2 196.6 L339.8 197.7 L341.4 198.8 L342.9 199.9 L344.5 201.1 L346.0 202.3 L347.5 203.5 L349.0 204.7 L350.5 205.9 L352.0 207.1 L353.4 208.4 L354.9 209.7 L356.3 210.9 L357.7 212.2 L359.1 213.5 L360.5 214.9 L361.8 216.2 L363.2 217.5 L364.5 218.9 L365.9 220.2 L367.2 221.6 L368.5 223.0 L369.8 224.4 L371.1 225.8 L372.3 227.2 L373.6 228.6 L374.9 230.0 L376.1 231.4 L377.3 232.9 L378.6 234.3 L379.8 235.8 L381.0 237.2 L382.3 238.7 L383.5 240.1 L384.7 241.6 L385.9 243.1 L387.1 244.5 L388.3 246.0 L389.5 247.5 L390.7 248.9 L391.9 250.4 L393.1 251.9 L394.3 253.4 L395.5 254.9 L396.6 256.4 L397.8 257.9 L399.0 259.4 L400.2 260.9 L401.4 262.4 L402.5 263.9 L403.7 265.4 L404.9 266.9 L406.1 268.4 L407.2 269.9 L408.4 271.4 L409.6 272.9 L410.7 274.4 L411.9 276.0 L413.0 277.5 L414.2 279.0 L415.3 280.5 L416.5 282.1 L417.7 283.6 L418.8 285.1 L420.0 286.7 L421.1 288.2 L422.2 289.7 L423.4 291.3 L424.5 292.8 L425.7 294.3 L426.8 295.9 L428.0 297.4 L429.1 299.0 L430.2 300.5 L431.4 302.1 L432.5 303.6 L433.6 305.2 L434.8 306.7 L435.9 308.3 L437.0 309.8 L438.2 311.4 L439.3 312.9 L440.4 314.5 L441.5 316.0 L442.7 317.6 L443.8 319.2 L444.9 320.7 L446.0 322.3 L447.2 323.9 L448.3 325.4 L449.4 327.0 L450.5 328.6 L451.7 330.1 L452.8 331.7 L453.9 333.3 L455.0 334.8 L456.1 336.4 L457.3 338.0 L458.4 339.5 L459.5 341.1 L460.6 342.7 L461.7 344.2 L462.8 345.8 L464.0 347.4 L465.1 349.0 L466.2 350.5 L467.3 352.1 L468.4 353.7 L469.5 355.3 L470.6 356.8 L471.8 358.4 L472.9 360.0 L474.0 361.6 L475.1 363.1 L476.2 364.7 L477.3 366.3 L478.4 367.9 L479.5 369.4 L480.6 371.0 L481.8 372.6 L482.9 374.2 L484.0 375.7 L485.1 377.3 L486.2 378.9 L487.3 380.5 L488.4 382.1 L489.5 383.6 L490.6 385.2 L491.7 386.8 L492.8 388.4 L493.9 390.0 L495.0 391.6 L496.1 393.1 L497.1 394.7 L498.2 396.3 L499.3 397.9 L500.4 399.5 L501.5 401.0 L502.6 402.6 L503.7 404.2 L504.7 405.8 L505.8 407.4 L506.9 409.0 L508.0 410.6 L509.1 412.1 L510.1 413.7 L511.2 415.3 L512.3 416.9 L513.3 418.5 L514.4 420.1 L515.5 421.7 L516.5 423.2 L517.6 424.8 L518.6 426.4 L519.7 428.0 L520.8 429.6 L521.8 431.2 L522.9 432.8 L523.9 434.4 L525.0 435.9 L526.0 437.5 L527.1 439.1 L528.1 440.7 L529.2 442.3 L530.2 443.9 L531.3 445.5 L532.3 447.1 L533.4 448.7 L534.4 450.2 L535.5 451.8 L536.5 453.4 L537.6 455.0 L538.6 456.6 L539.7 458.2 L540.7 459.8 L541.8 461.4 L542.8 463.0 L543.8 464.6 L544.9 466.1 L545.9 467.7 L547.0 469.3 L548.0 470.9 L549.1 472.5 L550.1 474.1 L551.2 475.7 L552.2 477.3 L553.2 478.9 L554.3 480.5 L555.3 482.1 L556.4 483.7 L557.4 485.3 L558.5 486.8 L559.5 488.4 L560.6 490.0 L561.6 491.6 L562.7 493.2 L563.7 494.8 L564.7 496.4 L565.8 498.0 L566.8 499.6 L567.9 501.2 L568.9 502.8 L570.0 504.4 L571.0 506.0 L572.1 507.6 L573.1 509.2 L574.2 510.7 L575.2 512.3 L576.3 513.9 L577.3 515.5 L578.4 517.1 L579.4 518.7 L580.5 520.3 L581.5 521.9 L582.6 523.5 L583.6 525.1 L584.7 526.7 L585.7 528.3 L586.8 529.9 L587.8 531.5 L588.9 533.1 L590.0 534.7 L591.0 536.3 L592.1 537.8 L593.1 539.4 L594.2 541.0 L595.2 542.6 L596.3 544.2 L597.4 545.8 L598.4 547.4 L599.5 549.0 L600.6 550.6 L601.6 552.2 L602.7 553.8 L603.7 555.4 L604.8 557.0 L605.9 558.6 L606.9 560.2 L608.0 561.8 L609.1 563.3 L610.2 564.9 L611.2 566.5 L612.3 568.1 L613.4 569.7 L614.4 571.3 L615.5 572.9 L616.6 574.5 L617.7 576.1 L618.7 577.7 L619.8 579.3 L620.9 580.9 L622.0 582.5 L623.1 584.1 L624.1 585.6 L625.2 587.2 L626.3 588.8 L627.4 590.4 L628.5 592.0 L629.6 593.6 L630.6 595.2 L631.7 596.8 L632.8 598.4 L633.9 600.0 L635.0 601.6 L636.1 603.2 L637.1 604.8 L638.2 606.3 L639.3 607.9 L640.4 609.5 L641.5 611.1 L642.6 612.7 L643.6 614.3 L644.7 615.9 L645.8 617.5 L646.9 619.1 L648.0 620.7 L649.0 622.3 L650.1 623.9 L651.2 625.5 L652.3 627.1 L653.4 628.6 L654.4 630.2 L655.5 631.8 L656.6 633.4 L657.7 635.0 L658.7 636.6 L659.8 638.2 L660.9 639.8 L661.9 641.4 L663.0 643.0 L664.1 644.6 L665.1 646.2 L666.2 647.8 L667.2 649.4 L668.3 651.0 L669.4 652.6 L670.4 654.2 L671.5 655.8 L672.5 657.4 L673.6 659.0 L674.6 660.6 L675.6 662.2 L676.7 663.7 L677.7 665.3 L678.8 666.9 L679.8 668.5 L680.8 670.1 L681.9 671.7 L682.9 673.3 L683.9 674.9 L684.9 676.5 L686.0 678.1 L687.0 679.7 L688.0 681.3 L689.0 682.9 L690.1 684.5 L691.1 686.1 L692.1 687.8 L693.1 689.4 L694.1 691.0 L695.1 692.6 L696.2 694.2 L697.2 695.8 L698.2 697.4 L699.2 699.0 L700.2 700.6 L701.3 702.2 L702.3 703.8 L703.3 705.4 L704.3 707.0 L705.4 708.6 L706.4 710.2 L707.4 711.8 L708.5 713.4 L709.5 715.1 L710.5 716.7 L711.6 718.3 L712.6 719.9 L713.6 721.5 L714.7 723.1 L715.7 724.7 L716.8 726.3 L717.8 727.9 L718.9 729.6 L720.0 731.2 L721.0 732.8 L722.1 734.4 L723.2 736.0 L724.3 737.6 L725.3 739.3 L726.4 740.9 L727.5 742.5 L728.6 744.1 L729.7 745.7 L730.8 747.3 L731.9 749.0 L733.0 750.6 L734.2 752.2" fill="none" stroke="#000" stroke-width="1.25"/>
<path d="M80.8 235.2 L82.6 234.6 L84.3 233.9 L86.1 233.3 L87.9 232.6 L89.7 231.9 L91.4 231.3 L93.2 230.6 L94.9 229.9 L96.7 229.2 L98.4 228.5 L100.2 227.8 L101.9 227.1 L103.7 226.4 L105.4 225.7 L107.1 225.0 L108.8 224.3 L110.6 223.5 L112.3 222.8 L114.0 222.1 L115.7 221.4 L117.4 220.6 L119.2 219.9 L120.9 219.2 L122.6 218.4 L124.3 217.7 L126.0 216.9 L127.7 216.2 L129.4 215.5 L131.1 214.7 L132.8 214.0 L134.6 213.2 L136.3 212.5 L138.0 211.8 L139.7 211.0 L141.4 210.3 L143.1 209.6 L144.8 208.8 L146.5 208.1 L148.3 207.4 L150.0 206.6 L151.7 205.9 L153.4 205.2 L155.2 204.5 L156.9 203.8 L158.6 203.1 L160.4 202.4 L162.1 201.6 L163.9 201.0 L165.6 200.3 L167.4 199.6 L169.1 198.9 L170.9 198.2 L172.6 197.5 L174.4 196.9 L176.2 196.2 L178.0 195.6 L179.8 194.9 L181.6 194.3 L183.4 193.6 L185.2 193.0 L187.0 192.4 L188.8 191.8 L190.6 191.2 L192.4 190.6 L194.2 190.0 L196.0 189.5 L197.9 188.9 L199.7 188.4 L201.5 187.8 L203.4 187.3 L205.2 186.8 L207.0 186.3 L208.9 185.8 L210.7 185.3 L212.6 184.9 L214.4 184.4 L216.2 184.0 L218.1 183.6 L220.0 183.2 L221.8 182.8 L223.7 182.4 L225.5 182.0 L227.4 181.7 L229.2 181.4 L231.1 181.1 L232.9 180.8 L234.8 180.5 L236.7 180.2 L238.5 180.0 L240.4 179.8 L242.2 179.6 L244.1 179.4 L246.0 179.2 L247.8 179.1 L249.7 178.9 L251.5 178.8 L253.4 178.7 L255.3 178.7 L257.1 178.6 L259.0 178.6 L260.8 178.6 L262.7 178.6 L264.5 178.7 L266.4 178.7 L268.2 178.8 L270.1 178.9 L271.9 179.1 L273.7 179.2 L275.6 179.4 L277.4 179.6 L279.2 179.9 L281.1 180.1 L282.9 180.4 L284.7 180.7 L286.5 181.1 L288.3 181.4 L290.1 181.8 L292.0 182.3 L293.8 182.7 L295.6 183.2 L297.4 183.7 L299.1 184.2 L300.9 184.8 L302.7 185.4 L304.5 186.0 L306.2 186.6 L308.0 187.3 L309.8 187.9 L311.5 188.6 L313.2 189.4 L315.0 190.1 L316.7 190.9 L318.4 191.7 L320.1 192.5 L321.8 193.4 L323.5 194.2 L325.2 195.1 L326.8 196.0 L328.5 196.9 L330.1 197.9 L331.7 198.8 L333.3 199.8 L335.0 200.8 L336.5 201.8 L338.1 202.9 L339.7 203.9 L341.2 205.0 L342.8 206.1 L344.3 207.2 L345.8 208.3 L347.3 209.4 L348.8 210.6 L350.2 211.8 L351.7 212.9 L353.1 214.1 L354.5 215.4 L355.9 216.6 L357.3 217.8 L358.7 219.1 L360.0 220.3 L361.3 221.6 L362.7 222.9 L364.0 224.2 L365.3 225.5 L366.5 226.8 L367.8 228.2 L369.1 229.5 L370.3 230.9 L371.6 232.2 L372.8 233.6 L374.0 235.0 L375.2 236.4 L376.4 237.8 L377.6 239.2 L378.8 240.6 L380.0 242.0 L381.2 243.4 L382.4 244.9 L383.6 246.3 L384.8 247.7 L386.0 249.2 L387.2 250.6 L388.3 252.1 L389.5 253.6 L390.7 255.0 L391.8 256.5 L393.0 258.0 L394.2 259.5 L395.3 260.9 L396.5 262.4 L397.7 263.9 L398.8 265.4 L400.0 266.9 L401.1 268.4 L402.3 269.9 L403.4 271.4 L404.6 272.9 L405.7 274.5 L406.9 276.0 L408.0 277.5 L409.1 279.0 L410.3 280.5 L411.4 282.0 L412.5 283.6 L413.7 285.1 L414.8 286.6 L415.9 288.1 L417.1 289.7 L418.2 291.2 L419.3 292.7 L420.5 294.2 L421.6 295.7 L422.7 297.3 L423.8 298.8 L424.9 300.3 L426.1 301.8 L427.2 303.3 L428.3 304.9 L429.4 306.4 L430.5 307.9 L431.7 309.4 L432.8 310.9 L433.9 312.4 L435.0 313.9 L436.1 315.4 L437.2 316.9 L438.3 318.4 L439.5 319.9 L440.6 321.4 L441.7 323.0 L442.8 324.5 L443.9 326.0 L445.0 327.5 L446.1 329.0 L447.2 330.5 L448.4 332.0 L449.5 333.5 L450.6 335.0 L451.7 336.5 L452.8 338.0 L453.9 339.5 L455.0 341.0 L456.1 342.5 L457.3 344.1 L458.4 345.6 L459.5 347.1 L460.6 348.6 L461.7 350.1 L462.8 351.7 L463.9 353.2 L465.1 354.7 L466.2 356.2 L467.3 357.8 L468.4 359.3 L469.5 360.8 L470.6 362.3 L471.7 363.9 L472.8 365.4 L473.9 367.0 L475.0 368.5 L476.1 370.0 L477.2 371.6 L478.3 373.1 L479.4 374.7 L480.5 376.2 L481.6 377.8 L482.6 379.3 L483.7 380.9 L484.8 382.4 L485.8 384.0 L486.9 385.5 L487.9 387.1 L488.9 388.6 L490.0 390.2 L491.0 391.8 L492.0 393.3 L493.0 394.9 L494.0 396.4 L495.0 398.0 L496.0 399.6 L497.0 401.1 L498.0 402.7 L499.0 404.3 L500.0 405.9 L501.0 407.4 L502.0 409.0 L503.0 410.6 L504.0 412.2 L504.9 413.7 L505.9 415.3 L506.9 416.9 L507.9 418.5 L508.8 420.1 L509.8 421.6 L510.8 423.2 L511.8 424.8 L512.7 426.4 L513.7 428.0 L514.7 429.6 L515.7 431.2 L516.6 432.7 L517.6 434.3 L518.6 435.9 L519.6 437.5 L520.5 439.1 L521.5 440.7 L522.5 442.3 L523.5 443.9 L524.4 445.5 L525.4 447.1 L526.4 448.7 L527.3 450.3 L528.3 451.9 L529.3 453.5 L530.3 455.1 L531.2 456.7 L532.2 458.3 L533.2 459.9 L534.1 461.5 L535.1 463.1 L536.1 464.7 L537.0 466.3 L538.0 467.9 L539.0 469.5 L539.9 471.1 L540.9 472.7 L541.8 474.3 L542.8 475.9 L543.8 477.6 L544.7 479.2 L545.7 480.8 L546.6 482.4 L547.6 484.0 L548.6 485.6 L549.5 487.2 L550.5 488.8 L551.4 490.4 L552.4 492.0 L553.4 493.7 L554.3 495.3 L555.3 496.9 L556.2 498.5 L557.2 500.1 L558.2 501.7 L559.1 503.3 L560.1 504.9 L561.0 506.6 L562.0 508.2 L563.0 509.8 L563.9 511.4 L564.9 513.0 L565.8 514.6 L566.8 516.2 L567.8 517.8 L568.7 519.5 L569.7 521.1 L570.6 522.7 L571.6 524.3 L572.6 525.9 L573.5 527.5 L574.5 529.1 L575.5 530.7 L576.4 532.4 L577.4 534.0 L578.4 535.6 L579.3 537.2 L580.3 538.8 L581.3 540.4 L582.2 542.0 L583.2 543.6 L584.2 545.3 L585.2 546.9 L586.1 548.5 L587.1 550.1 L588.1 551.7 L589.1 553.3 L590.1 554.9 L591.1 556.5 L592.0 558.1 L593.0 559.7 L594.0 561.3 L595.0 563.0 L596.0 564.6 L597.0 566.2 L598.0 567.8 L599.0 569.4 L600.0 571.0 L601.0 572.6 L602.0 574.2 L603.0 575.8 L604.0 577.4 L605.0 579.0 L606.0 580.6 L607.0 582.2 L608.0 583.8 L609.0 585.4 L610.0 587.0 L611.1 588.6 L612.1 590.2 L613.1 591.8 L614.1 593.4 L615.1 595.0 L616.1 596.6 L617.2 598.2 L618.2 599.8 L619.2 601.4 L620.2 603.0 L621.2 604.6 L622.2 606.1 L623.2 607.7 L624.2 609.3 L625.3 610.9 L626.3 612.5 L627.3 614.1 L628.3 615.7 L629.3 617.3 L630.2 618.9 L631.2 620.5 L632.2 622.1 L633.2 623.7 L634.2 625.3 L635.2 626.9 L636.1 628.5 L637.1 630.1 L638.1 631.7 L639.0 633.3 L640.0 634.9 L640.9 636.5 L641.9 638.0 L642.8 639.6 L643.8 641.2 L644.7 642.8 L645.7 644.4 L646.6 646.0 L647.5 647.6 L648.5 649.2 L649.4 650.8 L650.3 652.4 L651.2 654.0 L652.2 655.6 L653.1 657.3 L654.0 658.9 L654.9 660.5 L655.9 662.1 L656.8 663.7 L657.7 665.3 L658.6 666.9 L659.5 668.5 L660.4 670.1 L661.3 671.7 L662.3 673.3 L663.2 674.9 L664.1 676.6 L665.0 678.2 L665.9 679.8 L666.8 681.4 L667.7 683.0 L668.6 684.6 L669.6 686.3 L670.5 687.9 L671.4 689.5 L672.3 691.1 L673.2 692.8 L674.1 694.4 L675.0 696.0 L675.9 697.6 L676.8 699.3 L677.8 700.9 L678.7 702.5 L679.6 704.2 L680.5 705.8 L681.4 707.5 L682.3 709.1 L683.2 710.7 L684.2 712.4 L685.1 714.0 L686.0 715.7 L686.9 717.3 L687.9 719.0 L688.8 720.6 L689.7 722.3 L690.6 723.9 L691.6 725.6 L692.5 727.2 L693.4 728.9 L694.4 730.6 L695.3 732.2 L696.2 733.9 L697.2 735.6 L698.1 737.2 L699.1 738.9 L700.0 740.6 L701.0 742.3 L701.9 743.9 L702.9 745.6 L703.8 747.3 L704.8 749.0 L705.7 750.7 L706.7 752.4" fill="none" stroke="#000" stroke-width="1.25"/>
</g>
<g>
<path d="M125.7 184.2 H152.8 M125.7 181.0 V187.4 M152.8 181.0 V187.4 M137.9 168.3 V211.7 M134.7 168.3 H141.1 M134.7 211.7 H141.1" stroke="#000" stroke-width="1.25" fill="none"/>
<circle cx="137.9" cy="184.2" r="4.2" fill="#000"/>
<path d="M152.8 183.5 H174.5 M152.8 180.3 V186.7 M174.5 180.3 V186.7 M166.2 170.5 V197.0 M163.0 170.5 H169.4 M163.0 197.0 H169.4" stroke="#000" stroke-width="1.25" fill="none"/>
<circle cx="166.2" cy="183.5" r="4.2" fill="#000"/>
<path d="M174.5 176.3 H195.4 M174.5 173.1 V179.5 M195.4 173.1 V179.5 M186.5 167.6 V190.0 M183.3 167.6 H189.7 M183.3 190.0 H189.7" stroke="#000" stroke-width="1.25" fill="none"/>
<circle cx="186.5" cy="176.3" r="4.2" fill="#000"/>
<path d="M194.7 171.0 H215.7 M194.7 167.8 V174.2 M215.7 167.8 V174.2 M204.4 163.0 V180.0 M201.2 163.0 H207.6 M201.2 180.0 H207.6" stroke="#000" stroke-width="1.25" fill="none"/>
<circle cx="204.4" cy="171.0" r="4.2" fill="#000"/>
<path d="M215.7 172.8 H224.5 M215.7 169.6 V176.0 M224.5 169.6 V176.0 M219.5 164.0 V185.8 M216.3 164.0 H222.7 M216.3 185.8 H222.7" stroke="#000" stroke-width="1.25" fill="none"/>
<circle cx="219.5" cy="172.8" r="4.2" fill="#000"/>
<path d="M224.5 188.7 H235.0 M224.5 185.5 V191.9 M235.0 185.5 V191.9 M230.1 175.7 V208.2 M226.9 175.7 H233.3 M226.9 208.2 H233.3" stroke="#000" stroke-width="1.25" fill="none"/>
<circle cx="230.1" cy="188.7" r="4.2" fill="#000"/>
<path d="M235.0 168.4 H245.0 M235.0 165.2 V171.6 M245.0 165.2 V171.6 M239.8 160.0 V178.0 M236.6 160.0 H243.0 M236.6 178.0 H243.0" stroke="#000" stroke-width="1.25" fill="none"/>
<circle cx="239.8" cy="168.4" r="4.2" fill="#000"/>
<path d="M245.0 161.2 H255.0 M245.0 158.0 V164.4 M255.0 158.0 V164.4 M249.6 153.0 V170.6 M246.4 153.0 H252.8 M246.4 170.6 H252.8" stroke="#000" stroke-width="1.25" fill="none"/>
<circle cx="249.6" cy="161.2" r="4.2" fill="#000"/>
<path d="M255.0 156.1 H265.0 M255.0 152.9 V159.3 M265.0 152.9 V159.3 M260.0 150.0 V163.0 M256.8 150.0 H263.2 M256.8 163.0 H263.2" stroke="#000" stroke-width="1.25" fill="none"/>
<circle cx="260.0" cy="156.1" r="4.2" fill="#000"/>
<path d="M265.0 158.3 H275.0 M265.0 155.1 V161.5 M275.0 155.1 V161.5 M269.4 152.0 V165.0 M266.2 152.0 H272.6 M266.2 165.0 H272.6" stroke="#000" stroke-width="1.25" fill="none"/>
<circle cx="269.4" cy="158.3" r="4.2" fill="#000"/>
<path d="M275.0 158.3 H286.0 M275.0 155.1 V161.5 M286.0 155.1 V161.5 M281.0 152.0 V165.0 M277.8 152.0 H284.2 M277.8 165.0 H284.2" stroke="#000" stroke-width="1.25" fill="none"/>
<circle cx="281.0" cy="158.3" r="4.2" fill="#000"/>
<path d="M286.0 160.5 H296.0 M286.0 157.3 V163.7 M296.0 157.3 V163.7 M290.4 154.0 V168.0 M287.2 154.0 H293.6 M287.2 168.0 H293.6" stroke="#000" stroke-width="1.25" fill="none"/>
<circle cx="290.4" cy="160.5" r="4.2" fill="#000"/>
<path d="M296.0 166.3 H306.0 M296.0 163.1 V169.5 M306.0 163.1 V169.5 M299.8 158.0 V184.0 M296.6 158.0 H303.0 M296.6 184.0 H303.0" stroke="#000" stroke-width="1.25" fill="none"/>
<circle cx="299.8" cy="166.3" r="4.2" fill="#000"/>
<path d="M132.5 216.7 H157.1 M132.5 213.5 V219.9 M157.1 213.5 V219.9 M143.4 190.0 V254.0 M140.2 190.0 H146.6 M140.2 254.0 H146.6" stroke="#ff0000" stroke-width="1.25" fill="none"/>
<rect x="140.4" y="213.7" width="6" height="6" fill="none" stroke="#ff0000" stroke-width="0.7"/>
<path d="M158.6 192.9 H175.2 M158.6 189.7 V196.1 M175.2 189.7 V196.1 M167.2 177.7 V211.2 M164.0 177.7 H170.4 M164.0 211.2 H170.4" stroke="#ff0000" stroke-width="1.25" fill="none"/>
<rect x="164.2" y="189.9" width="6" height="6" fill="none" stroke="#ff0000" stroke-width="0.7"/>
<path d="M178.0 177.0 H197.6 M178.0 173.8 V180.2 M197.6 173.8 V180.2 M190.4 167.6 V187.1 M187.2 167.6 H193.6 M187.2 187.1 H193.6" stroke="#ff0000" stroke-width="1.25" fill="none"/>
<rect x="187.4" y="174.0" width="6" height="6" fill="none" stroke="#ff0000" stroke-width="0.7"/>
<path d="M198.0 179.9 H215.0 M198.0 176.7 V183.1 M215.0 176.7 V183.1 M206.5 170.5 V187.8 M203.3 170.5 H209.7 M203.3 187.8 H209.7" stroke="#ff0000" stroke-width="1.25" fill="none"/>
<rect x="203.5" y="176.9" width="6" height="6" fill="none" stroke="#ff0000" stroke-width="0.7"/>
<path d="M214.0 159.0 H224.0 M214.0 155.8 V162.2 M224.0 155.8 V162.2 M218.8 151.0 V167.5 M215.6 151.0 H222.0 M215.6 167.5 H222.0" stroke="#ff0000" stroke-width="1.25" fill="none"/>
<rect x="215.8" y="156.0" width="6" height="6" fill="none" stroke="#ff0000" stroke-width="0.7"/>
<path d="M224.0 159.8 H235.0 M224.0 156.6 V163.0 M235.0 156.6 V163.0 M229.6 151.1 V167.7 M226.4 151.1 H232.8 M226.4 167.7 H232.8" stroke="#ff0000" stroke-width="1.25" fill="none"/>
<rect x="226.6" y="156.8" width="6" height="6" fill="none" stroke="#ff0000" stroke-width="0.7"/>
<path d="M235.0 167.7 H245.5 M235.0 164.5 V170.9 M245.5 164.5 V170.9 M240.5 158.0 V179.3 M237.3 158.0 H243.7 M237.3 179.3 H243.7" stroke="#ff0000" stroke-width="1.25" fill="none"/>
<rect x="237.5" y="164.7" width="6" height="6" fill="none" stroke="#ff0000" stroke-width="0.7"/>
<path d="M245.5 147.5 H255.5 M245.5 144.3 V150.7 M255.5 144.3 V150.7 M250.6 142.4 V154.7 M247.4 142.4 H253.8 M247.4 154.7 H253.8" stroke="#ff0000" stroke-width="1.25" fill="none"/>
<rect x="247.6" y="144.5" width="6" height="6" fill="none" stroke="#ff0000" stroke-width="0.7"/>
<path d="M255.5 163.4 H265.0 M255.5 160.2 V166.6 M265.0 160.2 V166.6 M260.0 156.0 V175.7 M256.8 156.0 H263.2 M256.8 175.7 H263.2" stroke="#ff0000" stroke-width="1.25" fill="none"/>
<rect x="257.0" y="160.4" width="6" height="6" fill="none" stroke="#ff0000" stroke-width="0.7"/>
<path d="M265.0 160.5 H275.0 M265.0 157.3 V163.7 M275.0 157.3 V163.7 M270.1 154.0 V168.0 M266.9 154.0 H273.3 M266.9 168.0 H273.3" stroke="#ff0000" stroke-width="1.25" fill="none"/>
<rect x="267.1" y="157.5" width="6" height="6" fill="none" stroke="#ff0000" stroke-width="0.7"/>
<path d="M275.0 162.6 H285.5 M275.0 159.4 V165.8 M285.5 159.4 V165.8 M280.2 156.0 V170.0 M277.0 156.0 H283.4 M277.0 170.0 H283.4" stroke="#ff0000" stroke-width="1.25" fill="none"/>
<rect x="277.2" y="159.6" width="6" height="6" fill="none" stroke="#ff0000" stroke-width="0.7"/>
<path d="M285.5 163.5 H296.0 M285.5 160.3 V166.7 M296.0 160.3 V166.7 M290.5 157.0 V171.0 M287.3 157.0 H293.7 M287.3 171.0 H293.7" stroke="#ff0000" stroke-width="1.25" fill="none"/>
<rect x="287.5" y="160.5" width="6" height="6" fill="none" stroke="#ff0000" stroke-width="0.7"/>
<path d="M296.0 164.8 H307.0 M296.0 161.6 V168.0 M307.0 161.6 V168.0 M301.9 157.6 V172.8 M298.7 157.6 H305.1 M298.7 172.8 H305.1" stroke="#ff0000" stroke-width="1.25" fill="none"/>
<rect x="298.9" y="161.8" width="6" height="6" fill="none" stroke="#ff0000" stroke-width="0.7"/>
<path d="M307.6 165.3 H315.6 M307.6 162.1 V168.5 M315.6 162.1 V168.5 M311.6 156.9 V173.3 M308.4 156.9 H314.8 M308.4 173.3 H314.8" stroke="#ff0000" stroke-width="1.25" fill="none"/>
<rect x="308.6" y="162.3" width="6" height="6" fill="none" stroke="#ff0000" stroke-width="0.7"/>
<path d="M114.5 195.8 H178.5 M114.5 192.6 V199.0 M178.5 192.6 V199.0 M154.6 179.9 V228.3 M151.4 179.9 H157.8 M151.4 228.3 H157.8" stroke="#00ff00" stroke-width="1.25" fill="none"/>
<path d="M151.4 192.6 L157.8 199.0 M151.4 199.0 L157.8 192.6" stroke="#00ff00" stroke-width="0.8" fill="none"/>
<path d="M178.5 157.2 H243.0 M178.5 154.0 V160.4 M243.0 154.0 V160.4 M219.5 149.6 V167.7 M216.3 149.6 H222.7 M216.3 167.7 H222.7" stroke="#00ff00" stroke-width="1.25" fill="none"/>
<path d="M216.3 154.0 L222.7 160.4 M216.3 160.4 L222.7 154.0" stroke="#00ff00" stroke-width="0.8" fill="none"/>
<path d="M243.0 156.9 H275.0 M243.0 153.7 V160.1 M275.0 153.7 V160.1 M262.9 148.2 V166.3 M259.7 148.2 H266.1 M259.7 166.3 H266.1" stroke="#00ff00" stroke-width="1.25" fill="none"/>
<path d="M259.7 153.7 L266.1 160.1 M259.7 160.1 L266.1 153.7" stroke="#00ff00" stroke-width="0.8" fill="none"/>
<path d="M275.0 163.0 H289.0 M275.0 159.8 V166.2 M289.0 159.8 V166.2 M282.0 157.0 V170.0 M278.8 157.0 H285.2 M278.8 170.0 H285.2" stroke="#00ff00" stroke-width="1.25" fill="none"/>
<path d="M278.8 159.8 L285.2 166.2 M278.8 166.2 L285.2 159.8" stroke="#00ff00" stroke-width="0.8" fill="none"/>
<path d="M283.0 168.4 H297.0 M283.0 165.2 V171.6 M297.0 165.2 V171.6 M289.6 162.0 V175.0 M286.4 162.0 H292.8 M286.4 175.0 H292.8" stroke="#00ff00" stroke-width="1.25" fill="none"/>
<path d="M286.4 165.2 L292.8 171.6 M286.4 171.6 L292.8 165.2" stroke="#00ff00" stroke-width="0.8" fill="none"/>
<path d="M299.9 178.1 H313.9 M299.9 174.9 V181.3 M313.9 174.9 V181.3 M306.4 168.0 V192.5 M303.2 168.0 H309.6 M303.2 192.5 H309.6" stroke="#00ff00" stroke-width="1.25" fill="none"/>
<path d="M303.2 174.9 L309.6 181.3 M303.2 181.3 L309.6 174.9" stroke="#00ff00" stroke-width="0.8" fill="none"/>
<path d="M313.9 177.2 H348.6 M313.9 174.0 V180.4 M348.6 174.0 V180.4 M326.9 165.3 V192.0 M323.7 165.3 H330.1 M323.7 192.0 H330.1" stroke="#0000ff" stroke-width="1.25" fill="none"/>
<circle cx="326.9" cy="177.2" r="4.9" fill="none" stroke="#0000ff" stroke-width="0.6"/>
<path d="M348.8 217.2 H401.3 M348.8 214.0 V220.4 M401.3 214.0 V220.4 M375.3 204.2 V231.3 M372.1 204.2 H378.5 M372.1 231.3 H378.5" stroke="#0000ff" stroke-width="1.25" fill="none"/>
<circle cx="375.3" cy="217.2" r="4.9" fill="none" stroke="#0000ff" stroke-width="0.6"/>
<path d="M401.3 250.8 H433.4 M401.3 247.6 V254.0 M433.4 247.6 V254.0 M417.1 226.3 V290.5 M413.9 226.3 H420.3 M413.9 290.5 H420.3" stroke="#0000ff" stroke-width="1.25" fill="none"/>
<circle cx="417.1" cy="250.8" r="4.9" fill="none" stroke="#0000ff" stroke-width="0.6"/>
<path d="M433.4 262.1 H465.5 M433.4 258.9 V265.3 M465.5 258.9 V265.3 M449.0 232.4 V307.2 M445.8 232.4 H452.2 M445.8 307.2 H452.2" stroke="#0000ff" stroke-width="1.25" fill="none"/>
<circle cx="449.0" cy="262.1" r="4.9" fill="none" stroke="#0000ff" stroke-width="0.6"/>
</g>
<g clip-path="url(#fr)">
<g clip-path="url(#hc)" stroke="#ffff00" stroke-width="1.2" fill="none">
<path d="M-883.0 800.0 L-83.0 0.0 M-865.1 800.0 L-65.1 0.0 M-847.2 800.0 L-47.2 0.0 M-829.3 800.0 L-29.3 0.0 M-811.4 800.0 L-11.4 0.0 M-793.5 800.0 L6.5 0.0 M-775.6 800.0 L24.4 0.0 M-757.7 800.0 L42.3 0.0 M-739.8 800.0 L60.2 0.0 M-721.9 800.0 L78.1 0.0 M-704.0 800.0 L96.0 0.0 M-686.1 800.0 L113.9 0.0 M-668.2 800.0 L131.8 0.0 M-650.3 800.0 L149.7 0.0 M-632.4 800.0 L167.6 0.0 M-614.5 800.0 L185.5 0.0 M-596.6 800.0 L203.4 0.0 M-578.7 800.0 L221.3 0.0 M-560.8 800.0 L239.2 0.0 M-542.9 800.0 L257.1 0.0 M-525.0 800.0 L275.0 0.0 M-507.1 800.0 L292.9 0.0 M-489.2 800.0 L310.8 0.0 M-471.3 800.0 L328.7 0.0 M-453.4 800.0 L346.6 0.0 M-435.5 800.0 L364.5 0.0 M-417.6 800.0 L382.4 0.0 M-399.7 800.0 L400.3 0.0 M-381.8 800.0 L418.2 0.0 M-363.9 800.0 L436.1 0.0 M-346.0 800.0 L454.0 0.0 M-328.1 800.0 L471.9 0.0 M-310.2 800.0 L489.8 0.0 M-292.3 800.0 L507.7 0.0 M-274.4 800.0 L525.6 0.0 M-256.5 800.0 L543.5 0.0 M-238.6 800.0 L561.4 0.0 M-220.7 800.0 L579.3 0.0 M-202.8 800.0 L597.2 0.0 M-184.9 800.0 L615.1 0.0 M-167.0 800.0 L633.0 0.0 M-149.1 800.0 L650.9 0.0 M-131.2 800.0 L668.8 0.0 M-113.3 800.0 L686.7 0.0 M-95.4 800.0 L704.6 0.0 M-77.5 800.0 L722.5 0.0 M-59.6 800.0 L740.4 0.0 M-41.7 800.0 L758.3 0.0 M-23.8 800.0 L776.2 0.0 M-5.9 800.0 L794.1 0.0 M12.0 800.0 L812.0 0.0 M29.9 800.0 L829.9 0.0 M47.8 800.0 L847.8 0.0 M65.7 800.0 L865.7 0.0 M83.6 800.0 L883.6 0.0 M101.5 800.0 L901.5 0.0 M119.4 800.0 L919.4 0.0 M137.3 800.0 L937.3 0.0 M155.2 800.0 L955.2 0.0 M173.1 800.0 L973.1 0.0 M191.0 800.0 L991.0 0.0 M208.9 800.0 L1008.9 0.0 M226.8 800.0 L1026.8 0.0 M244.7 800.0 L1044.7 0.0 M262.6 800.0 L1062.6 0.0 M280.5 800.0 L1080.5 0.0 M298.4 800.0 L1098.4 0.0 M316.3 800.0 L1116.3 0.0 M334.2 800.0 L1134.2 0.0 M352.1 800.0 L1152.1 0.0 M370.0 800.0 L1170.0 0.0 M387.9 800.0 L1187.9 0.0 M405.8 800.0 L1205.8 0.0 M423.7 800.0 L1223.7 0.0 M441.6 800.0 L1241.6 0.0 M459.5 800.0 L1259.5 0.0 M477.4 800.0 L1277.4 0.0 M495.3 800.0 L1295.3 0.0 M513.2 800.0 L1313.2 0.0 M531.1 800.0 L1331.1 0.0 M549.0 800.0 L1349.0 0.0 M566.9 800.0 L1366.9 0.0 M584.8 800.0 L1384.8 0.0 M602.7 800.0 L1402.7 0.0 M620.6 800.0 L1420.6 0.0 M638.5 800.0 L1438.5 0.0 M656.4 800.0 L1456.4 0.0 M674.3 800.0 L1474.3 0.0 M692.2 800.0 L1492.2 0.0 M710.1 800.0 L1510.1 0.0 M728.0 800.0 L1528.0 0.0 M745.9 800.0 L1545.9 0.0 M763.8 800.0 L1563.8 0.0 M781.7 800.0 L1581.7 0.0 M799.6 800.0 L1599.6 0.0 M817.5 800.0 L1617.5 0.0 M835.4 800.0 L1635.4 0.0 M853.3 800.0 L1653.3 0.0 M871.2 800.0 L1671.2 0.0 M889.1 800.0 L1689.1 0.0"/>
</g>
<path d="M80.8 264.3 L82.6 263.6 L84.3 263.0 L86.1 262.3 L87.8 261.6 L89.6 261.0 L91.3 260.3 L93.0 259.6 L94.8 258.9 L96.5 258.2 L98.2 257.6 L100.0 256.9 L101.7 256.2 L103.4 255.5 L105.1 254.8 L106.8 254.1 L108.5 253.4 L110.2 252.7 L112.0 252.0 L113.7 251.3 L115.4 250.6 L117.1 249.9 L118.8 249.1 L120.5 248.4 L122.2 247.7 L123.9 247.0 L125.6 246.3 L127.3 245.6 L129.0 244.9 L130.7 244.2 L132.3 243.5 L134.0 242.8 L135.7 242.1 L137.4 241.4 L139.1 240.7 L140.8 240.0 L142.5 239.3 L144.2 238.6 L145.9 237.9 L147.6 237.2 L149.3 236.5 L151.0 235.8 L152.8 235.1 L154.5 234.4 L156.2 233.8 L157.9 233.1 L159.6 232.4 L161.3 231.8 L163.1 231.1 L164.8 230.5 L166.5 229.8 L168.2 229.2 L170.0 228.5 L171.7 227.9 L173.5 227.3 L175.2 226.6 L176.9 226.0 L178.7 225.4 L180.5 224.8 L182.2 224.2 L184.0 223.6 L185.8 223.0 L187.5 222.4 L189.3 221.9 L191.1 221.3 L192.9 220.7 L194.7 220.2 L196.5 219.7 L198.3 219.1 L200.1 218.6 L201.9 218.1 L203.7 217.6 L205.5 217.1 L207.4 216.6 L209.2 216.1 L211.0 215.6 L212.8 215.2 L214.7 214.7 L216.5 214.2 L218.4 213.8 L220.2 213.4 L222.0 213.0 L223.9 212.6 L225.7 212.2 L227.6 211.8 L229.4 211.4 L231.3 211.0 L233.2 210.7 L235.0 210.3 L236.9 210.0 L238.7 209.7 L240.6 209.4 L242.5 209.1 L244.3 208.8 L246.2 208.5 L248.0 208.3 L249.9 208.0 L251.8 207.8 L253.6 207.6 L255.5 207.4 L257.4 207.2 L259.2 207.0 L261.1 206.8 L263.0 206.7 L264.8 206.5 L266.7 206.4 L268.5 206.3 L270.4 206.2 L272.3 206.1 L274.1 206.0 L276.0 206.0 L277.8 205.9 L279.7 205.9 L281.5 205.9 L283.4 205.9 L285.2 205.9 L287.1 205.9 L288.9 206.0 L290.8 206.1 L292.6 206.1 L294.4 206.2 L296.3 206.4 L298.1 206.5 L299.9 206.6 L301.8 206.8 L303.6 207.0 L305.4 207.2 L307.2 207.4 L309.0 207.6 L310.8 207.9 L312.6 208.2 L314.4 208.4 L316.2 208.8 L318.0 209.1 L319.8 209.4 L321.6 209.8 L323.3 210.2 L325.1 210.6 L326.9 211.0 L328.6 211.4 L330.4 211.9 L332.1 212.4 L333.9 212.8 L335.6 213.4 L337.3 213.9 L339.1 214.4 L340.8 215.0 L342.5 215.6 L344.2 216.2 L345.9 216.8 L347.6 217.4 L349.3 218.1 L351.0 218.8 L352.7 219.4 L354.4 220.1 L356.1 220.9 L357.8 221.6 L359.4 222.3 L361.1 223.1 L362.7 223.9 L364.4 224.7 L366.0 225.5 L367.7 226.3 L369.3 227.1 L371.0 228.0 L372.6 228.8 L374.2 229.7 L375.8 230.6 L377.4 231.5 L379.0 232.4 L380.6 233.3 L382.2 234.3 L383.8 235.2 L385.4 236.2 L387.0 237.2 L388.6 238.1 L390.2 239.1 L391.7 240.1 L393.3 241.2 L394.8 242.2 L396.4 243.2 L398.0 244.3 L399.5 245.3 L401.0 246.4 L402.6 247.5 L404.1 248.6 L405.6 249.6 L407.1 250.7 L408.7 251.9 L410.2 253.0 L411.7 254.1 L413.2 255.2 L414.7 256.4 L416.2 257.5 L417.7 258.7 L419.1 259.9 L420.6 261.0 L422.1 262.2 L423.6 263.4 L425.0 264.6 L426.5 265.8 L427.9 267.0 L429.4 268.2 L430.8 269.4 L432.3 270.6 L433.7 271.8 L435.1 273.0 L436.6 274.3 L438.0 275.5 L439.4 276.7 L440.8 278.0 L442.2 279.2 L443.6 280.5 L445.0 281.7 L446.4 283.0 L447.8 284.2 L449.2 285.5 L450.6 286.8 L451.9 288.0 L453.3 289.3 L454.7 290.6 L456.0 291.8 L457.4 293.1 L458.7 294.4 L460.1 295.7 L461.4 297.0 L462.8 298.3 L464.1 299.6 L465.4 300.9 L466.8 302.2 L468.1 303.5 L469.4 304.8 L470.7 306.1 L472.0 307.4 L473.3 308.7 L474.6 310.1 L475.9 311.4 L477.2 312.7 L478.5 314.0 L479.8 315.4 L481.1 316.7 L482.3 318.1 L483.6 319.4 L484.9 320.8 L486.1 322.1 L487.4 323.5 L488.6 324.8 L489.9 326.2 L491.1 327.6 L492.4 328.9 L493.6 330.3 L494.8 331.7 L496.0 333.1 L497.3 334.4 L498.5 335.8 L499.7 337.2 L500.9 338.6 L502.1 340.0 L503.3 341.4 L504.5 342.8 L505.7 344.2 L506.9 345.6 L508.1 347.1 L509.2 348.5 L510.4 349.9 L511.6 351.3 L512.8 352.8 L513.9 354.2 L515.1 355.6 L516.2 357.1 L517.4 358.5 L518.5 360.0 L519.7 361.4 L520.8 362.9 L521.9 364.3 L523.1 365.8 L524.2 367.3 L525.3 368.7 L526.4 370.2 L527.5 371.7 L528.6 373.2 L529.8 374.6 L530.9 376.1 L531.9 377.6 L533.0 379.1 L534.1 380.6 L535.2 382.1 L536.3 383.6 L537.4 385.1 L538.4 386.6 L539.5 388.1 L540.6 389.7 L541.6 391.2 L542.7 392.7 L543.7 394.2 L544.8 395.8 L545.8 397.3 L546.8 398.8 L547.9 400.4 L548.9 401.9 L549.9 403.5 L550.9 405.0 L552.0 406.6 L553.0 408.1 L554.0 409.7 L555.0 411.3 L556.0 412.8 L557.0 414.4 L557.9 416.0 L558.9 417.5 L559.9 419.1 L560.9 420.7 L561.8 422.3 L562.8 423.9 L563.8 425.5 L564.7 427.1 L565.7 428.7 L566.6 430.3 L567.6 431.9 L568.5 433.5 L569.4 435.1 L570.3 436.7 L571.3 438.3 L572.2 439.9 L573.1 441.5 L574.0 443.2 L574.9 444.8 L575.8 446.4 L576.7 448.0 L577.6 449.7 L578.5 451.3 L579.3 452.9 L580.2 454.6 L581.1 456.2 L581.9 457.9 L582.8 459.5 L583.7 461.2 L584.5 462.8 L585.3 464.5 L586.2 466.1 L587.0 467.8 L587.8 469.5 L588.7 471.1 L589.5 472.8 L590.3 474.5 L591.1 476.2 L591.9 477.8 L592.7 479.5 L593.5 481.2 L594.3 482.9 L595.1 484.6 L595.8 486.2 L596.6 487.9 L597.4 489.6 L598.1 491.3 L598.9 493.0 L599.6 494.7 L600.4 496.4 L601.1 498.1 L601.9 499.8 L602.6 501.5 L603.3 503.3 L604.0 505.0 L604.7 506.7 L605.5 508.4 L606.2 510.1 L606.9 511.8 L607.5 513.6 L608.2 515.3 L608.9 517.0 L609.6 518.7 L610.3 520.5 L610.9 522.2 L611.6 523.9 L612.2 525.7 L612.9 527.4 L613.5 529.2 L614.2 530.9 L614.8 532.6 L615.4 534.4 L616.0 536.1 L616.6 537.9 L617.2 539.6 L617.9 541.4 L618.4 543.1 L619.0 544.9 L619.6 546.7 L620.2 548.4 L620.8 550.2 L621.3 551.9 L621.9 553.7 L622.5 555.5 L623.0 557.2 L623.6 559.0 L624.1 560.8 L624.6 562.6 L625.2 564.3 L625.7 566.1 L626.2 567.9 L626.7 569.7 L627.2 571.4 L627.7 573.2 L628.2 575.0 L628.7 576.8 L629.2 578.6 L629.7 580.4 L630.2 582.2 L630.7 583.9 L631.1 585.7 L631.6 587.5 L632.0 589.3 L632.5 591.1 L633.0 592.9 L633.4 594.7 L633.8 596.5 L634.3 598.3 L634.7 600.1 L635.1 601.9 L635.6 603.7 L636.0 605.5 L636.4 607.3 L636.8 609.1 L637.2 610.9 L637.6 612.8 L638.0 614.6 L638.4 616.4 L638.8 618.2 L639.2 620.0 L639.6 621.8 L640.0 623.6 L640.3 625.4 L640.7 627.3 L641.1 629.1 L641.4 630.9 L641.8 632.7 L642.2 634.5 L642.5 636.4 L642.9 638.2 L643.2 640.0 L643.6 641.8 L643.9 643.7 L644.3 645.5 L644.6 647.3 L644.9 649.1 L645.3 651.0 L645.6 652.8 L645.9 654.6 L646.2 656.4 L646.6 658.3 L646.9 660.1 L647.2 661.9 L647.5 663.8 L647.8 665.6 L648.1 667.4 L648.4 669.3 L648.7 671.1 L649.0 672.9 L649.3 674.8 L649.6 676.6 L649.9 678.4 L650.2 680.3 L650.5 682.1 L650.8 684.0 L651.0 685.8 L651.3 687.6 L651.6 689.5 L651.9 691.3 L652.2 693.1 L652.4 695.0 L652.7 696.8 L653.0 698.7 L653.3 700.5 L653.5 702.3 L653.8 704.2 L654.1 706.0 L654.3 707.9 L654.6 709.7 L654.8 711.5 L655.1 713.4 L655.4 715.2 L655.6 717.1 L655.9 718.9 L656.1 720.7 L656.4 722.6 L656.6 724.4 L656.9 726.3 L657.1 728.1 L657.4 729.9 L657.6 731.8 L657.9 733.6 L658.1 735.5 L658.4 737.3 L658.6 739.1 L658.9 741.0 L659.1 742.8 L659.4 744.7 L659.6 746.5 L659.8 748.3 L660.1 750.2 L660.3 752.0" fill="none" stroke="#0000ff" stroke-width="1.6"/>
<path d="M81.4 204.4 L83.1 203.7 L84.9 202.9 L86.6 202.2 L88.4 201.5 L90.1 200.7 L91.9 200.0 L93.6 199.2 L95.4 198.5 L97.2 197.7 L98.9 197.0 L100.7 196.2 L102.5 195.5 L104.3 194.7 L106.1 194.0 L107.8 193.2 L109.6 192.5 L111.4 191.7 L113.2 191.0 L115.0 190.3 L116.8 189.5 L118.6 188.8 L120.4 188.0 L122.2 187.3 L124.0 186.5 L125.9 185.8 L127.7 185.1 L129.5 184.3 L131.3 183.6 L133.2 182.9 L135.0 182.2 L136.8 181.4 L138.7 180.7 L140.5 180.0 L142.3 179.3 L144.2 178.6 L146.0 177.9 L147.9 177.2 L149.7 176.5 L151.6 175.8 L153.5 175.1 L155.3 174.5 L157.2 173.8 L159.1 173.1 L160.9 172.5 L162.8 171.8 L164.7 171.2 L166.6 170.5 L168.4 169.9 L170.3 169.2 L172.2 168.6 L174.1 168.0 L176.0 167.4 L177.9 166.8 L179.8 166.2 L181.7 165.6 L183.6 165.0 L185.5 164.5 L187.4 163.9 L189.3 163.4 L191.2 162.8 L193.2 162.3 L195.1 161.8 L197.0 161.3 L198.9 160.8 L200.8 160.3 L202.8 159.8 L204.7 159.3 L206.6 158.8 L208.6 158.4 L210.5 157.9 L212.5 157.5 L214.4 157.1 L216.3 156.7 L218.3 156.3 L220.2 155.9 L222.2 155.5 L224.1 155.2 L226.1 154.8 L228.0 154.5 L230.0 154.2 L231.9 153.9 L233.9 153.6 L235.8 153.3 L237.8 153.0 L239.8 152.8 L241.7 152.6 L243.7 152.3 L245.6 152.1 L247.6 151.9 L249.5 151.8 L251.5 151.6 L253.5 151.5 L255.4 151.3 L257.4 151.2 L259.3 151.1 L261.3 151.1 L263.2 151.0 L265.2 150.9 L267.1 150.9 L269.1 150.9 L271.0 150.9 L273.0 150.9 L274.9 151.0 L276.9 151.1 L278.8 151.1 L280.7 151.2 L282.7 151.3 L284.6 151.5 L286.5 151.6 L288.5 151.8 L290.4 152.0 L292.3 152.2 L294.3 152.4 L296.2 152.7 L298.1 152.9 L300.0 153.2 L301.9 153.5 L303.8 153.8 L305.7 154.2 L307.6 154.5 L309.5 154.9 L311.4 155.3 L313.3 155.7 L315.2 156.1 L317.1 156.5 L319.0 157.0 L320.9 157.4 L322.7 157.9 L324.6 158.4 L326.5 159.0 L328.3 159.5 L330.2 160.1 L332.0 160.6 L333.9 161.2 L335.7 161.9 L337.6 162.5 L339.4 163.1 L341.2 163.8 L343.0 164.5 L344.8 165.2 L346.7 165.9 L348.5 166.6 L350.3 167.4 L352.0 168.1 L353.8 168.9 L355.6 169.7 L357.4 170.5 L359.2 171.3 L360.9 172.1 L362.7 173.0 L364.5 173.8 L366.2 174.7 L368.0 175.6 L369.7 176.5 L371.4 177.4 L373.2 178.4 L374.9 179.3 L376.6 180.2 L378.3 181.2 L380.0 182.2 L381.7 183.2 L383.5 184.2 L385.1 185.2 L386.8 186.2 L388.5 187.2 L390.2 188.2 L391.9 189.3 L393.5 190.3 L395.2 191.4 L396.9 192.5 L398.5 193.5 L400.2 194.6 L401.8 195.7 L403.5 196.8 L405.1 197.9 L406.7 199.1 L408.4 200.2 L410.0 201.3 L411.6 202.5 L413.2 203.6 L414.8 204.8 L416.4 205.9 L418.0 207.1 L419.6 208.3 L421.2 209.5 L422.8 210.7 L424.3 211.9 L425.9 213.1 L427.5 214.3 L429.0 215.5 L430.6 216.7 L432.1 217.9 L433.7 219.2 L435.2 220.4 L436.8 221.7 L438.3 222.9 L439.8 224.2 L441.3 225.4 L442.9 226.7 L444.4 228.0 L445.9 229.3 L447.4 230.5 L448.9 231.8 L450.4 233.1 L451.9 234.4 L453.3 235.7 L454.8 237.0 L456.3 238.3 L457.8 239.7 L459.2 241.0 L460.7 242.3 L462.1 243.6 L463.6 245.0 L465.0 246.3 L466.5 247.6 L467.9 249.0 L469.3 250.3 L470.8 251.7 L472.2 253.0 L473.6 254.4 L475.0 255.8 L476.4 257.1 L477.8 258.5 L479.2 259.9 L480.6 261.3 L482.0 262.7 L483.4 264.1 L484.8 265.5 L486.1 266.9 L487.5 268.3 L488.9 269.7 L490.2 271.1 L491.6 272.5 L492.9 273.9 L494.3 275.4 L495.6 276.8 L497.0 278.2 L498.3 279.7 L499.6 281.1 L501.0 282.5 L502.3 284.0 L503.6 285.5 L504.9 286.9 L506.2 288.4 L507.5 289.8 L508.8 291.3 L510.1 292.8 L511.4 294.3 L512.7 295.8 L514.0 297.2 L515.3 298.7 L516.5 300.2 L517.8 301.7 L519.1 303.2 L520.3 304.8 L521.6 306.3 L522.8 307.8 L524.1 309.3 L525.3 310.8 L526.6 312.4 L527.8 313.9 L529.0 315.4 L530.2 317.0 L531.4 318.5 L532.7 320.1 L533.9 321.6 L535.1 323.2 L536.3 324.7 L537.4 326.3 L538.6 327.9 L539.8 329.5 L541.0 331.0 L542.1 332.6 L543.3 334.2 L544.4 335.8 L545.6 337.4 L546.7 339.0 L547.9 340.6 L549.0 342.2 L550.1 343.8 L551.2 345.4 L552.3 347.0 L553.4 348.7 L554.5 350.3 L555.6 351.9 L556.7 353.6 L557.8 355.2 L558.8 356.8 L559.9 358.5 L561.0 360.1 L562.0 361.8 L563.1 363.5 L564.1 365.1 L565.1 366.8 L566.1 368.5 L567.2 370.1 L568.2 371.8 L569.2 373.5 L570.2 375.2 L571.2 376.9 L572.2 378.5 L573.1 380.2 L574.1 381.9 L575.1 383.6 L576.0 385.3 L577.0 387.0 L577.9 388.8 L578.9 390.5 L579.8 392.2 L580.8 393.9 L581.7 395.6 L582.6 397.4 L583.5 399.1 L584.4 400.8 L585.3 402.6 L586.2 404.3 L587.1 406.1 L588.0 407.8 L588.9 409.6 L589.7 411.3 L590.6 413.1 L591.4 414.8 L592.3 416.6 L593.1 418.4 L594.0 420.1 L594.8 421.9 L595.6 423.7 L596.5 425.4 L597.3 427.2 L598.1 429.0 L598.9 430.8 L599.7 432.6 L600.5 434.4 L601.3 436.2 L602.0 438.0 L602.8 439.8 L603.6 441.6 L604.3 443.4 L605.1 445.2 L605.8 447.0 L606.6 448.8 L607.3 450.6 L608.1 452.4 L608.8 454.3 L609.5 456.1 L610.2 457.9 L610.9 459.7 L611.6 461.6 L612.3 463.4 L613.0 465.2 L613.7 467.1 L614.4 468.9 L615.1 470.8 L615.7 472.6 L616.4 474.4 L617.0 476.3 L617.7 478.1 L618.3 480.0 L619.0 481.9 L619.6 483.7 L620.2 485.6 L620.9 487.4 L621.5 489.3 L622.1 491.2 L622.7 493.0 L623.3 494.9 L623.9 496.8 L624.5 498.7 L625.1 500.5 L625.7 502.4 L626.2 504.3 L626.8 506.2 L627.4 508.0 L627.9 509.9 L628.5 511.8 L629.0 513.7 L629.6 515.6 L630.1 517.5 L630.6 519.4 L631.1 521.3 L631.7 523.2 L632.2 525.1 L632.7 527.0 L633.2 528.9 L633.7 530.8 L634.2 532.7 L634.7 534.6 L635.1 536.5 L635.6 538.4 L636.1 540.3 L636.6 542.2 L637.0 544.1 L637.5 546.1 L637.9 548.0 L638.4 549.9 L638.8 551.8 L639.2 553.7 L639.7 555.6 L640.1 557.6 L640.5 559.5 L640.9 561.4 L641.3 563.3 L641.7 565.3 L642.2 567.2 L642.5 569.1 L642.9 571.1 L643.3 573.0 L643.7 574.9 L644.1 576.8 L644.5 578.8 L644.9 580.7 L645.2 582.7 L645.6 584.6 L645.9 586.5 L646.3 588.5 L646.7 590.4 L647.0 592.3 L647.4 594.3 L647.7 596.2 L648.0 598.2 L648.4 600.1 L648.7 602.0 L649.0 604.0 L649.4 605.9 L649.7 607.9 L650.0 609.8 L650.3 611.8 L650.6 613.7 L650.9 615.7 L651.2 617.6 L651.5 619.6 L651.8 621.5 L652.1 623.5 L652.4 625.4 L652.7 627.4 L653.0 629.3 L653.3 631.2 L653.6 633.2 L653.9 635.1 L654.2 637.1 L654.4 639.1 L654.7 641.0 L655.0 643.0 L655.3 644.9 L655.5 646.9 L655.8 648.8 L656.1 650.8 L656.3 652.7 L656.6 654.7 L656.8 656.6 L657.1 658.6 L657.4 660.5 L657.6 662.5 L657.9 664.4 L658.1 666.4 L658.4 668.3 L658.6 670.3 L658.9 672.2 L659.1 674.2 L659.3 676.1 L659.6 678.1 L659.8 680.0 L660.1 682.0 L660.3 683.9 L660.6 685.9 L660.8 687.8 L661.0 689.7 L661.3 691.7 L661.5 693.6 L661.7 695.6 L662.0 697.5 L662.2 699.5 L662.4 701.4 L662.7 703.4 L662.9 705.3 L663.1 707.2 L663.4 709.2 L663.6 711.1 L663.8 713.1 L664.1 715.0 L664.3 716.9 L664.5 718.9 L664.7 720.8 L665.0 722.7 L665.2 724.7 L665.4 726.6 L665.7 728.5 L665.9 730.5 L666.1 732.4 L666.4 734.3 L666.6 736.3 L666.8 738.2 L667.1 740.1 L667.3 742.0 L667.5 744.0 L667.8 745.9 L668.0 747.8 L668.3 749.7 L668.5 751.7" fill="none" stroke="#ff00ff" stroke-width="1.6"/>
<path d="M81.0 158.5 L82.8 157.6 L84.6 156.8 L86.4 156.0 L88.2 155.1 L90.0 154.3 L91.8 153.4 L93.6 152.6 L95.4 151.8 L97.3 151.0 L99.1 150.1 L100.9 149.3 L102.8 148.5 L104.6 147.7 L106.5 146.9 L108.3 146.1 L110.2 145.3 L112.1 144.5 L114.0 143.7 L115.8 142.9 L117.7 142.2 L119.6 141.4 L121.5 140.6 L123.4 139.9 L125.3 139.1 L127.2 138.4 L129.1 137.7 L131.0 136.9 L133.0 136.2 L134.9 135.5 L136.8 134.8 L138.7 134.1 L140.7 133.5 L142.6 132.8 L144.5 132.1 L146.5 131.5 L148.4 130.8 L150.4 130.2 L152.3 129.6 L154.3 128.9 L156.3 128.3 L158.2 127.8 L160.2 127.2 L162.1 126.6 L164.1 126.0 L166.1 125.5 L168.1 125.0 L170.0 124.4 L172.0 123.9 L174.0 123.4 L176.0 123.0 L178.0 122.5 L180.0 122.0 L181.9 121.6 L183.9 121.2 L185.9 120.8 L187.9 120.4 L189.9 120.0 L191.9 119.6 L193.9 119.3 L195.9 118.9 L197.9 118.6 L199.9 118.3 L201.9 118.0 L203.9 117.7 L205.9 117.5 L207.9 117.2 L209.9 117.0 L211.9 116.8 L213.9 116.6 L215.9 116.4 L218.0 116.3 L220.0 116.1 L222.0 116.0 L224.0 115.9 L226.0 115.8 L228.0 115.7 L230.0 115.7 L232.0 115.6 L234.0 115.6 L236.0 115.6 L238.0 115.6 L240.0 115.6 L242.0 115.6 L244.0 115.7 L246.0 115.7 L248.0 115.8 L250.0 115.9 L252.0 116.0 L254.0 116.1 L256.0 116.2 L258.0 116.4 L260.0 116.6 L262.0 116.8 L264.0 116.9 L266.0 117.2 L268.0 117.4 L270.0 117.6 L272.0 117.9 L273.9 118.2 L275.9 118.4 L277.9 118.7 L279.9 119.1 L281.9 119.4 L283.8 119.7 L285.8 120.1 L287.8 120.5 L289.7 120.8 L291.7 121.3 L293.6 121.7 L295.6 122.1 L297.5 122.5 L299.5 123.0 L301.4 123.5 L303.4 124.0 L305.3 124.5 L307.3 125.0 L309.2 125.5 L311.1 126.1 L313.0 126.6 L315.0 127.2 L316.9 127.8 L318.8 128.4 L320.7 129.0 L322.6 129.6 L324.5 130.2 L326.4 130.9 L328.3 131.6 L330.2 132.2 L332.1 132.9 L333.9 133.6 L335.8 134.4 L337.7 135.1 L339.6 135.8 L341.4 136.6 L343.3 137.4 L345.1 138.2 L347.0 139.0 L348.8 139.8 L350.6 140.6 L352.5 141.4 L354.3 142.3 L356.1 143.1 L357.9 144.0 L359.7 144.9 L361.5 145.8 L363.3 146.7 L365.1 147.6 L366.9 148.5 L368.7 149.5 L370.5 150.4 L372.3 151.4 L374.0 152.4 L375.8 153.4 L377.6 154.3 L379.3 155.4 L381.1 156.4 L382.8 157.4 L384.6 158.4 L386.3 159.5 L388.1 160.5 L389.8 161.6 L391.5 162.7 L393.2 163.8 L394.9 164.8 L396.7 165.9 L398.4 167.1 L400.1 168.2 L401.8 169.3 L403.5 170.4 L405.1 171.6 L406.8 172.7 L408.5 173.9 L410.2 175.1 L411.9 176.2 L413.5 177.4 L415.2 178.6 L416.8 179.8 L418.5 181.0 L420.1 182.2 L421.8 183.4 L423.4 184.7 L425.1 185.9 L426.7 187.1 L428.3 188.4 L429.9 189.6 L431.6 190.9 L433.2 192.2 L434.8 193.4 L436.4 194.7 L438.0 196.0 L439.6 197.3 L441.2 198.6 L442.8 199.9 L444.3 201.2 L445.9 202.5 L447.5 203.8 L449.1 205.1 L450.6 206.4 L452.2 207.8 L453.7 209.1 L455.3 210.4 L456.8 211.8 L458.4 213.1 L459.9 214.4 L461.5 215.8 L463.0 217.2 L464.5 218.5 L466.0 219.9 L467.6 221.2 L469.1 222.6 L470.6 224.0 L472.1 225.4 L473.6 226.7 L475.1 228.1 L476.6 229.5 L478.1 230.9 L479.5 232.3 L481.0 233.7 L482.5 235.1 L483.9 236.5 L485.4 237.9 L486.9 239.3 L488.3 240.8 L489.8 242.2 L491.2 243.6 L492.7 245.0 L494.1 246.5 L495.5 247.9 L496.9 249.4 L498.4 250.8 L499.8 252.3 L501.2 253.7 L502.6 255.2 L504.0 256.7 L505.4 258.1 L506.7 259.6 L508.1 261.1 L509.5 262.6 L510.9 264.1 L512.2 265.5 L513.6 267.0 L515.0 268.5 L516.3 270.0 L517.6 271.5 L519.0 273.1 L520.3 274.6 L521.6 276.1 L523.0 277.6 L524.3 279.1 L525.6 280.7 L526.9 282.2 L528.2 283.8 L529.5 285.3 L530.8 286.9 L532.1 288.4 L533.3 290.0 L534.6 291.5 L535.9 293.1 L537.1 294.7 L538.4 296.2 L539.6 297.8 L540.9 299.4 L542.1 301.0 L543.3 302.6 L544.5 304.2 L545.7 305.8 L547.0 307.4 L548.2 309.0 L549.4 310.6 L550.5 312.2 L551.7 313.9 L552.9 315.5 L554.1 317.1 L555.2 318.8 L556.4 320.4 L557.5 322.1 L558.7 323.7 L559.8 325.4 L561.0 327.0 L562.1 328.7 L563.2 330.4 L564.3 332.0 L565.4 333.7 L566.5 335.4 L567.6 337.1 L568.7 338.8 L569.8 340.5 L570.8 342.2 L571.9 343.9 L573.0 345.6 L574.0 347.3 L575.0 349.0 L576.1 350.7 L577.1 352.5 L578.1 354.2 L579.2 355.9 L580.2 357.7 L581.2 359.4 L582.2 361.2 L583.1 362.9 L584.1 364.7 L585.1 366.4 L586.1 368.2 L587.0 370.0 L588.0 371.7 L588.9 373.5 L589.9 375.3 L590.8 377.1 L591.7 378.9 L592.6 380.7 L593.6 382.4 L594.5 384.2 L595.4 386.0 L596.3 387.9 L597.1 389.7 L598.0 391.5 L598.9 393.3 L599.7 395.1 L600.6 396.9 L601.4 398.8 L602.3 400.6 L603.1 402.4 L603.9 404.3 L604.8 406.1 L605.6 407.9 L606.4 409.8 L607.2 411.6 L608.0 413.5 L608.8 415.3 L609.5 417.2 L610.3 419.1 L611.1 420.9 L611.8 422.8 L612.6 424.7 L613.3 426.5 L614.0 428.4 L614.8 430.3 L615.5 432.2 L616.2 434.1 L616.9 435.9 L617.6 437.8 L618.3 439.7 L619.0 441.6 L619.6 443.5 L620.3 445.4 L621.0 447.3 L621.6 449.2 L622.3 451.1 L622.9 453.1 L623.5 455.0 L624.2 456.9 L624.8 458.8 L625.4 460.7 L626.0 462.7 L626.6 464.6 L627.2 466.5 L627.8 468.4 L628.4 470.4 L629.0 472.3 L629.5 474.3 L630.1 476.2 L630.7 478.1 L631.2 480.1 L631.8 482.0 L632.3 484.0 L632.8 485.9 L633.4 487.9 L633.9 489.8 L634.4 491.8 L634.9 493.8 L635.4 495.7 L635.9 497.7 L636.4 499.6 L636.9 501.6 L637.4 503.6 L637.9 505.5 L638.3 507.5 L638.8 509.5 L639.3 511.5 L639.7 513.4 L640.2 515.4 L640.6 517.4 L641.1 519.4 L641.5 521.4 L642.0 523.3 L642.4 525.3 L642.8 527.3 L643.2 529.3 L643.7 531.3 L644.1 533.3 L644.5 535.3 L644.9 537.3 L645.3 539.3 L645.7 541.3 L646.1 543.2 L646.5 545.2 L646.9 547.2 L647.2 549.2 L647.6 551.2 L648.0 553.2 L648.4 555.2 L648.7 557.3 L649.1 559.3 L649.5 561.3 L649.8 563.3 L650.2 565.3 L650.5 567.3 L650.9 569.3 L651.2 571.3 L651.5 573.3 L651.9 575.3 L652.2 577.3 L652.5 579.3 L652.9 581.4 L653.2 583.4 L653.5 585.4 L653.8 587.4 L654.1 589.4 L654.4 591.4 L654.7 593.4 L655.0 595.5 L655.3 597.5 L655.6 599.5 L655.9 601.5 L656.2 603.5 L656.5 605.5 L656.8 607.6 L657.1 609.6 L657.4 611.6 L657.7 613.6 L657.9 615.6 L658.2 617.6 L658.5 619.7 L658.7 621.7 L659.0 623.7 L659.3 625.7 L659.5 627.7 L659.8 629.7 L660.1 631.8 L660.3 633.8 L660.6 635.8 L660.8 637.8 L661.1 639.8 L661.3 641.8 L661.6 643.9 L661.8 645.9 L662.1 647.9 L662.3 649.9 L662.6 651.9 L662.8 653.9 L663.0 655.9 L663.3 657.9 L663.5 660.0 L663.8 662.0 L664.0 664.0 L664.2 666.0 L664.5 668.0 L664.7 670.0 L664.9 672.0 L665.1 674.0 L665.4 676.0 L665.6 678.0 L665.8 680.0 L666.0 682.0 L666.3 684.0 L666.5 686.0 L666.7 688.0 L666.9 690.0 L667.2 692.0 L667.4 694.0 L667.6 696.0 L667.8 698.0 L668.0 700.0 L668.2 702.0 L668.5 704.0 L668.7 706.0 L668.9 707.9 L669.1 709.9 L669.3 711.9 L669.5 713.9 L669.8 715.9 L670.0 717.8 L670.2 719.8 L670.4 721.8 L670.6 723.8 L670.8 725.7 L671.1 727.7 L671.3 729.7 L671.5 731.7 L671.7 733.6 L671.9 735.6 L672.1 737.5 L672.4 739.5 L672.6 741.5 L672.8 743.4 L673.0 745.4 L673.2 747.3 L673.5 749.3 L673.7 751.2" fill="none" stroke="#ff0000" stroke-width="1.6"/>
</g>
<path d="M132.22 741.20 v-6.0 M132.22 45.30 v6.0 M156.73 741.20 v-6.0 M156.73 45.30 v6.0 M174.13 741.20 v-6.0 M174.13 45.30 v6.0 M187.62 741.20 v-6.0 M187.62 45.30 v6.0 M198.65 741.20 v-6.0 M198.65 45.30 v6.0 M207.97 741.20 v-6.0 M207.97 45.30 v6.0 M216.05 741.20 v-6.0 M216.05 45.30 v6.0 M223.17 741.20 v-6.0 M223.17 45.30 v6.0 M229.54 741.20 v-12.0 M229.54 45.30 v12.0 M271.46 741.20 v-6.0 M271.46 45.30 v6.0 M295.97 741.20 v-6.0 M295.97 45.30 v6.0 M313.37 741.20 v-6.0 M313.37 45.30 v6.0 M326.86 741.20 v-6.0 M326.86 45.30 v6.0 M337.89 741.20 v-6.0 M337.89 45.30 v6.0 M347.21 741.20 v-6.0 M347.21 45.30 v6.0 M355.29 741.20 v-6.0 M355.29 45.30 v6.0 M362.41 741.20 v-6.0 M362.41 45.30 v6.0 M368.78 741.20 v-12.0 M368.78 45.30 v12.0 M410.70 741.20 v-6.0 M410.70 45.30 v6.0 M435.21 741.20 v-6.0 M435.21 45.30 v6.0 M452.61 741.20 v-6.0 M452.61 45.30 v6.0 M466.10 741.20 v-6.0 M466.10 45.30 v6.0 M477.13 741.20 v-6.0 M477.13 45.30 v6.0 M486.45 741.20 v-6.0 M486.45 45.30 v6.0 M494.53 741.20 v-6.0 M494.53 45.30 v6.0 M501.65 741.20 v-6.0 M501.65 45.30 v6.0 M508.02 741.20 v-12.0 M508.02 45.30 v12.0 M549.94 741.20 v-6.0 M549.94 45.30 v6.0 M574.45 741.20 v-6.0 M574.45 45.30 v6.0 M591.85 741.20 v-6.0 M591.85 45.30 v6.0 M605.34 741.20 v-6.0 M605.34 45.30 v6.0 M616.37 741.20 v-6.0 M616.37 45.30 v6.0 M625.69 741.20 v-6.0 M625.69 45.30 v6.0 M633.77 741.20 v-6.0 M633.77 45.30 v6.0 M640.89 741.20 v-6.0 M640.89 45.30 v6.0 M647.26 741.20 v-12.0 M647.26 45.30 v12.0 M689.18 741.20 v-6.0 M689.18 45.30 v6.0 M713.69 741.20 v-6.0 M713.69 45.30 v6.0 M731.09 741.20 v-6.0 M731.09 45.30 v6.0 M744.58 741.20 v-6.0 M744.58 45.30 v6.0 M755.61 741.20 v-6.0 M755.61 45.30 v6.0 M764.93 741.20 v-6.0 M764.93 45.30 v6.0 M773.01 741.20 v-6.0 M773.01 45.30 v6.0 M780.13 741.20 v-6.0 M780.13 45.30 v6.0 M90.30 93.94 h6.0 M786.50 93.94 h-6.0 M90.30 81.69 h6.0 M786.50 81.69 h-6.0 M90.30 72.99 h6.0 M786.50 72.99 h-6.0 M90.30 66.25 h6.0 M786.50 66.25 h-6.0 M90.30 60.74 h6.0 M786.50 60.74 h-6.0 M90.30 56.08 h6.0 M786.50 56.08 h-6.0 M90.30 52.04 h6.0 M786.50 52.04 h-6.0 M90.30 48.48 h6.0 M786.50 48.48 h-6.0 M90.30 114.89 h12.0 M786.50 114.89 h-12.0 M90.30 163.53 h6.0 M786.50 163.53 h-6.0 M90.30 151.28 h6.0 M786.50 151.28 h-6.0 M90.30 142.58 h6.0 M786.50 142.58 h-6.0 M90.30 135.84 h6.0 M786.50 135.84 h-6.0 M90.30 130.33 h6.0 M786.50 130.33 h-6.0 M90.30 125.67 h6.0 M786.50 125.67 h-6.0 M90.30 121.63 h6.0 M786.50 121.63 h-6.0 M90.30 118.07 h6.0 M786.50 118.07 h-6.0 M90.30 184.48 h12.0 M786.50 184.48 h-12.0 M90.30 233.12 h6.0 M786.50 233.12 h-6.0 M90.30 220.87 h6.0 M786.50 220.87 h-6.0 M90.30 212.17 h6.0 M786.50 212.17 h-6.0 M90.30 205.43 h6.0 M786.50 205.43 h-6.0 M90.30 199.92 h6.0 M786.50 199.92 h-6.0 M90.30 195.26 h6.0 M786.50 195.26 h-6.0 M90.30 191.22 h6.0 M786.50 191.22 h-6.0 M90.30 187.66 h6.0 M786.50 187.66 h-6.0 M90.30 254.07 h12.0 M786.50 254.07 h-12.0 M90.30 302.71 h6.0 M786.50 302.71 h-6.0 M90.30 290.46 h6.0 M786.50 290.46 h-6.0 M90.30 281.76 h6.0 M786.50 281.76 h-6.0 M90.30 275.02 h6.0 M786.50 275.02 h-6.0 M90.30 269.51 h6.0 M786.50 269.51 h-6.0 M90.30 264.85 h6.0 M786.50 264.85 h-6.0 M90.30 260.81 h6.0 M786.50 260.81 h-6.0 M90.30 257.25 h6.0 M786.50 257.25 h-6.0 M90.30 323.66 h12.0 M786.50 323.66 h-12.0 M90.30 372.30 h6.0 M786.50 372.30 h-6.0 M90.30 360.05 h6.0 M786.50 360.05 h-6.0 M90.30 351.35 h6.0 M786.50 351.35 h-6.0 M90.30 344.61 h6.0 M786.50 344.61 h-6.0 M90.30 339.10 h6.0 M786.50 339.10 h-6.0 M90.30 334.44 h6.0 M786.50 334.44 h-6.0 M90.30 330.40 h6.0 M786.50 330.40 h-6.0 M90.30 326.84 h6.0 M786.50 326.84 h-6.0 M90.30 393.25 h12.0 M786.50 393.25 h-12.0 M90.30 441.89 h6.0 M786.50 441.89 h-6.0 M90.30 429.64 h6.0 M786.50 429.64 h-6.0 M90.30 420.94 h6.0 M786.50 420.94 h-6.0 M90.30 414.20 h6.0 M786.50 414.20 h-6.0 M90.30 408.69 h6.0 M786.50 408.69 h-6.0 M90.30 404.03 h6.0 M786.50 404.03 h-6.0 M90.30 399.99 h6.0 M786.50 399.99 h-6.0 M90.30 396.43 h6.0 M786.50 396.43 h-6.0 M90.30 462.84 h12.0 M786.50 462.84 h-12.0 M90.30 511.48 h6.0 M786.50 511.48 h-6.0 M90.30 499.23 h6.0 M786.50 499.23 h-6.0 M90.30 490.53 h6.0 M786.50 490.53 h-6.0 M90.30 483.79 h6.0 M786.50 483.79 h-6.0 M90.30 478.28 h6.0 M786.50 478.28 h-6.0 M90.30 473.62 h6.0 M786.50 473.62 h-6.0 M90.30 469.58 h6.0 M786.50 469.58 h-6.0 M90.30 466.02 h6.0 M786.50 466.02 h-6.0 M90.30 532.43 h12.0 M786.50 532.43 h-12.0 M90.30 581.07 h6.0 M786.50 581.07 h-6.0 M90.30 568.82 h6.0 M786.50 568.82 h-6.0 M90.30 560.12 h6.0 M786.50 560.12 h-6.0 M90.30 553.38 h6.0 M786.50 553.38 h-6.0 M90.30 547.87 h6.0 M786.50 547.87 h-6.0 M90.30 543.21 h6.0 M786.50 543.21 h-6.0 M90.30 539.17 h6.0 M786.50 539.17 h-6.0 M90.30 535.61 h6.0 M786.50 535.61 h-6.0 M90.30 602.02 h12.0 M786.50 602.02 h-12.0 M90.30 650.66 h6.0 M786.50 650.66 h-6.0 M90.30 638.41 h6.0 M786.50 638.41 h-6.0 M90.30 629.71 h6.0 M786.50 629.71 h-6.0 M90.30 622.97 h6.0 M786.50 622.97 h-6.0 M90.30 617.46 h6.0 M786.50 617.46 h-6.0 M90.30 612.80 h6.0 M786.50 612.80 h-6.0 M90.30 608.76 h6.0 M786.50 608.76 h-6.0 M90.30 605.20 h6.0 M786.50 605.20 h-6.0 M90.30 671.61 h12.0 M786.50 671.61 h-12.0 M90.30 720.25 h6.0 M786.50 720.25 h-6.0 M90.30 708.00 h6.0 M786.50 708.00 h-6.0 M90.30 699.30 h6.0 M786.50 699.30 h-6.0 M90.30 692.56 h6.0 M786.50 692.56 h-6.0 M90.30 687.05 h6.0 M786.50 687.05 h-6.0 M90.30 682.39 h6.0 M786.50 682.39 h-6.0 M90.30 678.35 h6.0 M786.50 678.35 h-6.0 M90.30 674.79 h6.0 M786.50 674.79 h-6.0" stroke="#000" stroke-width="1.15" fill="none"/>
<rect x="90.3" y="45.3" width="696.2" height="695.9" fill="none" stroke="#000" stroke-width="1.4"/>
<text transform="translate(51.88 52.20) scale(1.1549 1.0000)" font-family="'Liberation Serif', serif" font-size="19.00" stroke="#000" stroke-width="0.12">10</text>
<text transform="translate(73.49 46.70) scale(1.1765 1.0000)" font-family="'Liberation Serif', serif" font-weight="bold" font-size="11.60">0</text>
<text transform="translate(43.11 121.79) scale(1.1368 1.0000)" font-family="'Liberation Serif', serif" font-size="19.00" stroke="#000" stroke-width="0.12">10</text>
<text transform="translate(64.92 116.29) scale(1.2792 1.0000)" font-family="'Liberation Serif', serif" font-weight="bold" font-size="11.60">−</text>
<text transform="translate(73.56 116.29) scale(1.1260 1.0000)" font-family="'Liberation Serif', serif" font-weight="bold" font-size="11.60">1</text>
<text transform="translate(43.11 191.38) scale(1.1368 1.0000)" font-family="'Liberation Serif', serif" font-size="19.00" stroke="#000" stroke-width="0.12">10</text>
<text transform="translate(64.92 185.88) scale(1.2792 1.0000)" font-family="'Liberation Serif', serif" font-weight="bold" font-size="11.60">−</text>
<text transform="translate(73.37 185.88) scale(1.2879 1.0000)" font-family="'Liberation Serif', serif" font-weight="bold" font-size="11.60">2</text>
<text transform="translate(43.11 260.97) scale(1.1368 1.0000)" font-family="'Liberation Serif', serif" font-size="19.00" stroke="#000" stroke-width="0.12">10</text>
<text transform="translate(64.92 255.47) scale(1.2792 1.0000)" font-family="'Liberation Serif', serif" font-weight="bold" font-size="11.60">−</text>
<text transform="translate(73.46 255.47) scale(1.2503 1.0000)" font-family="'Liberation Serif', serif" font-weight="bold" font-size="11.60">3</text>
<text transform="translate(43.11 330.56) scale(1.1368 1.0000)" font-family="'Liberation Serif', serif" font-size="19.00" stroke="#000" stroke-width="0.12">10</text>
<text transform="translate(64.92 325.06) scale(1.2792 1.0000)" font-family="'Liberation Serif', serif" font-weight="bold" font-size="11.60">−</text>
<text transform="translate(73.84 325.06) scale(1.1372 1.0000)" font-family="'Liberation Serif', serif" font-weight="bold" font-size="11.60">4</text>
<text transform="translate(43.11 400.15) scale(1.1368 1.0000)" font-family="'Liberation Serif', serif" font-size="19.00" stroke="#000" stroke-width="0.12">10</text>
<text transform="translate(64.92 394.65) scale(1.2792 1.0000)" font-family="'Liberation Serif', serif" font-weight="bold" font-size="11.60">−</text>
<text transform="translate(73.41 394.65) scale(1.2650 1.0000)" font-family="'Liberation Serif', serif" font-weight="bold" font-size="11.60">5</text>
<text transform="translate(43.11 469.74) scale(1.1368 1.0000)" font-family="'Liberation Serif', serif" font-size="19.00" stroke="#000" stroke-width="0.12">10</text>
<text transform="translate(64.92 464.24) scale(1.2792 1.0000)" font-family="'Liberation Serif', serif" font-weight="bold" font-size="11.60">−</text>
<text transform="translate(73.50 464.24) scale(1.2287 1.0000)" font-family="'Liberation Serif', serif" font-weight="bold" font-size="11.60">6</text>
<text transform="translate(43.11 539.33) scale(1.1368 1.0000)" font-family="'Liberation Serif', serif" font-size="19.00" stroke="#000" stroke-width="0.12">10</text>
<text transform="translate(64.92 533.83) scale(1.2792 1.0000)" font-family="'Liberation Serif', serif" font-weight="bold" font-size="11.60">−</text>
<text transform="translate(73.15 533.83) scale(1.2802 1.0000)" font-family="'Liberation Serif', serif" font-weight="bold" font-size="11.60">7</text>
<text transform="translate(43.11 608.92) scale(1.1368 1.0000)" font-family="'Liberation Serif', serif" font-size="19.00" stroke="#000" stroke-width="0.12">10</text>
<text transform="translate(64.92 603.42) scale(1.2792 1.0000)" font-family="'Liberation Serif', serif" font-weight="bold" font-size="11.60">−</text>
<text transform="translate(73.54 603.42) scale(1.2287 1.0000)" font-family="'Liberation Serif', serif" font-weight="bold" font-size="11.60">8</text>
<text transform="translate(43.11 678.51) scale(1.1368 1.0000)" font-family="'Liberation Serif', serif" font-size="19.00" stroke="#000" stroke-width="0.12">10</text>
<text transform="translate(64.92 673.01) scale(1.2792 1.0000)" font-family="'Liberation Serif', serif" font-weight="bold" font-size="11.60">−</text>
<text transform="translate(73.61 673.01) scale(1.2217 1.0000)" font-family="'Liberation Serif', serif" font-weight="bold" font-size="11.60">9</text>
<text transform="translate(37.23 748.10) scale(1.1248 1.0000)" font-family="'Liberation Serif', serif" font-size="19.00" stroke="#000" stroke-width="0.12">10</text>
<text transform="translate(59.23 742.60) scale(1.0938 1.0000)" font-family="'Liberation Serif', serif" font-weight="bold" font-size="11.60">−</text>
<text transform="translate(65.76 742.60) scale(1.2308 1.0000)" font-family="'Liberation Serif', serif" font-weight="bold" font-size="11.60">10</text>
<text transform="translate(76.51 763.90) scale(1.1143 1.0000)" font-family="'Liberation Serif', serif" font-size="19.00" stroke="#000" stroke-width="0.12">0.1</text>
<text transform="translate(224.64 763.90) scale(0.9406 1.0000)" font-family="'Liberation Serif', serif" font-size="19.00" stroke="#000" stroke-width="0.12">1</text>
<text transform="translate(358.69 763.90) scale(1.0887 1.0000)" font-family="'Liberation Serif', serif" font-size="19.00" stroke="#000" stroke-width="0.12">10</text>
<text transform="translate(492.10 763.90) scale(1.1445 1.0000)" font-family="'Liberation Serif', serif" font-size="19.00" stroke="#000" stroke-width="0.12">100</text>
<text transform="translate(625.64 763.90) scale(1.1761 1.0000)" font-family="'Liberation Serif', serif" font-size="19.00" stroke="#000" stroke-width="0.12">1000</text>
<text transform="translate(772.88 763.90) scale(1.1549 1.0000)" font-family="'Liberation Serif', serif" font-size="19.00" stroke="#000" stroke-width="0.12">10</text>
<text transform="translate(794.55 759.00) scale(1.0638 1.0000)" font-family="'Liberation Serif', serif" font-weight="bold" font-size="11.60">4</text>
<text transform="translate(537.62 35.50) scale(1.1075 1.0000)" font-family="'Liberation Serif', serif" font-size="14.60" stroke="#000" stroke-width="0.30">T.</text>
<text transform="translate(557.29 35.50) scale(1.1600 1.0000)" font-family="'Liberation Serif', serif" font-size="14.60" letter-spacing="0.781" stroke="#000" stroke-width="0.30">Bringmann</text>
<text transform="translate(648.42 35.50) scale(0.8816 1.0000)" font-family="'Liberation Serif', serif" font-size="14.60" stroke="#000" stroke-width="0.30">&amp;</text>
<text transform="translate(667.19 35.50) scale(1.1600 1.0000)" font-family="'Liberation Serif', serif" font-size="14.60" letter-spacing="0.981" stroke="#000" stroke-width="0.30">P.</text>
<text transform="translate(687.96 35.50) scale(1.1600 1.0000)" font-family="'Liberation Serif', serif" font-size="14.60" letter-spacing="0.529" stroke="#000" stroke-width="0.30">Salati</text>
<text transform="translate(738.60 35.50) scale(1.2224 1.0000)" font-family="'Liberation Serif', serif" font-size="14.60" stroke="#000" stroke-width="0.30">(2006)</text>
<text transform="translate(380.99 76.00) scale(0.9877 1.0000)" font-family="'Liberation Serif', serif" font-size="17.30" stroke="#000" stroke-width="0.30">BESS</text>
<text transform="translate(430.23 76.00) scale(1.1965 1.0000)" font-family="'Liberation Serif', serif" font-size="17.30" stroke="#000" stroke-width="0.30">95+97</text>
<text transform="translate(498.58 76.00) scale(1.0103 1.0000)" font-family="'Liberation Serif', serif" font-size="17.30" fill="#ff0000" stroke="#ff0000" stroke-width="0.30">BESS</text>
<text transform="translate(548.34 76.00) scale(1.1685 1.0000)" font-family="'Liberation Serif', serif" font-size="17.30" fill="#ff0000" stroke="#ff0000" stroke-width="0.30">98</text>
<text transform="translate(579.45 76.00) scale(0.8653 1.0000)" font-family="'Liberation Serif', serif" font-size="17.30" fill="#00ff00" stroke="#00ff00" stroke-width="0.30">AMS</text>
<text transform="translate(619.95 76.00) scale(1.1561 1.0000)" font-family="'Liberation Serif', serif" font-size="17.30" fill="#00ff00" stroke="#00ff00" stroke-width="0.30">98</text>
<text transform="translate(662.15 76.00) scale(0.9428 1.0000)" font-family="'Liberation Serif', serif" font-size="17.30" fill="#0000ff" stroke="#0000ff" stroke-width="0.30">CAPRICE</text>
<text transform="translate(739.25 76.00) scale(1.1499 1.0000)" font-family="'Liberation Serif', serif" font-size="17.30" fill="#0000ff" stroke="#0000ff" stroke-width="0.30">98</text>
<text transform="translate(138.28 402.60) scale(0.9327 1.0000)" font-family="'Liberation Serif', serif" font-size="29.20" stroke="#fff" stroke-width="0.30">LKP</text>
<text transform="translate(203.53 402.60) scale(1.1600 1.0000)" font-family="'Liberation Serif', serif" font-size="29.20" letter-spacing="1.060" stroke="#fff" stroke-width="0.30">candidate</text>
<text transform="translate(358.92 402.60) scale(1.0493 1.0000)" font-family="'Liberation Serif', serif" font-size="29.20" stroke="#fff" stroke-width="0.30">1.7</text>
<text transform="translate(413.11 402.60) scale(0.9514 1.0000)" font-family="'Liberation Serif', serif" font-size="29.20" stroke="#fff" stroke-width="0.30">TeV</text>
<text transform="translate(155.37 451.60) scale(0.8319 1.0000)" font-family="'Liberation Serif', serif" font-size="29.20" stroke="#fff" stroke-width="0.30">NFW</text>
<text transform="translate(224.20 451.60) scale(0.8029 1.0000)" font-family="'Liberation Serif', serif" font-size="29.20" stroke="#fff" stroke-width="0.30">DM</text>
<text transform="translate(278.06 451.60) scale(1.1600 1.0000)" font-family="'Liberation Serif', serif" font-size="29.20" letter-spacing="0.105" stroke="#fff" stroke-width="0.30">halo</text>
<text transform="translate(351.79 451.60) scale(1.1600 1.0000)" font-family="'Liberation Serif', serif" font-size="29.20" letter-spacing="0.250" stroke="#fff" stroke-width="0.30">profile</text>
<text transform="translate(182.50 499.90) scale(0.8819 1.0000)" font-family="'Liberation Serif', serif" font-size="29.20" stroke="#fff" stroke-width="0.30">IMBH</text>
<text transform="translate(263.95 499.90) scale(1.1600 1.0000)" font-family="'Liberation Serif', serif" font-size="29.20" letter-spacing="0.917" stroke="#fff" stroke-width="0.30">scenario</text>
<text transform="translate(399.30 499.90) scale(0.9152 1.0000)" font-family="'Liberation Serif', serif" font-size="29.20" stroke="#fff" stroke-width="0.30">B</text>
<text transform="translate(244.18 711.30) scale(1.1600 1.0000)" font-family="'Liberation Serif', serif" font-size="23.20" letter-spacing="0.503" stroke="#fff" stroke-width="0.12">Solar</text>
<text transform="translate(315.12 711.30) scale(1.1215 1.0000)" font-family="'Liberation Serif', serif" font-size="23.20" stroke="#fff" stroke-width="0.12">Minimum</text>
<text transform="translate(431.60 711.30) scale(1.0696 1.0000)" font-family="'Liberation Serif', serif" font-size="23.20" stroke="#fff" stroke-width="0.12">with</text>
<text transform="translate(550.16 711.30) scale(1.1535 1.0000)" font-family="'Liberation Serif', serif" font-size="23.20" stroke="#fff" stroke-width="0.12">500</text>
<text transform="translate(601.46 711.30) scale(0.7797 1.0000)" font-family="'Liberation Serif', serif" font-size="23.20" stroke="#fff" stroke-width="0.12">MV</text>
<text transform="translate(523.48 712.80) scale(1.1402 1.0000)" font-family="'Liberation Serif', serif" font-size="23.20">=</text>
<text transform="translate(489.48 710.40) scale(1.3620 1.0000)" font-family="'Liberation Serif', serif" font-style="italic" font-size="20.20">ϕ</text>
<text transform="translate(504.16 717.30) scale(1.0496 1.0000)" font-family="'Liberation Serif', serif" font-size="14.00" stroke="#000" stroke-width="0.35">F</text>
<text transform="translate(378.64 793.50) scale(0.8882 1.0000)" font-family="'Liberation Serif', serif" font-size="23.20">T</text>
<text transform="translate(391.33 787.00) scale(0.7954 1.0000)" font-family="'Liberation Serif', serif" font-weight="bold" font-size="14.30">TOA</text>
<text transform="translate(391.72 799.60) scale(1.0020 1.0000)" font-family="'Liberation Serif', serif" font-weight="bold" font-size="14.30">p</text>
<path d="M391.2 789.5 H399.8" stroke="#000" stroke-width="1.0"/>
<text transform="translate(438.11 794.50) scale(0.8507 1.0000)" font-family="'Liberation Serif', serif" font-size="28.00">[</text>
<text transform="translate(447.43 793.20) scale(0.9396 1.0000)" font-family="'Liberation Serif', serif" font-size="23.20">GeV</text>
<text transform="translate(489.80 794.50) scale(0.9206 1.0000)" font-family="'Liberation Serif', serif" font-size="28.00">]</text>
<g transform="translate(22.1 540.0) rotate(-90)">
<text transform="translate(3.53 0.00) scale(0.8227 1.0000)" font-family="'Liberation Serif', serif" font-style="italic" font-size="23.60">Φ</text>
<text transform="translate(19.54 -6.70) scale(0.7691 1.0000)" font-family="'Liberation Serif', serif" font-weight="bold" font-size="14.30">TOA</text>
<text transform="translate(18.81 6.00) scale(1.0576 1.0000)" font-family="'Liberation Serif', serif" font-weight="bold" font-size="14.30">p</text>
<path d="M18.7 -3.4 H27.3" stroke="#000" stroke-width="1.0"/>
<text transform="translate(65.18 0.75) scale(0.9149 1.0000)" font-family="'Liberation Serif', serif" font-size="28.00">[</text>
<text transform="translate(75.47 0.00) scale(1.1320 1.0000)" font-family="'Liberation Serif', serif" font-size="23.20">m</text>
<text transform="translate(98.05 -6.70) scale(1.1279 1.0000)" font-family="'Liberation Serif', serif" font-weight="bold" font-size="14.30">−</text>
<text transform="translate(106.92 -6.70) scale(1.2806 1.0000)" font-family="'Liberation Serif', serif" font-weight="bold" font-size="14.30">2</text>
<text transform="translate(125.41 0.00) scale(1.3931 1.0000)" font-family="'Liberation Serif', serif" font-size="23.20">s</text>
<text transform="translate(137.91 -6.70) scale(1.0527 1.0000)" font-family="'Liberation Serif', serif" font-weight="bold" font-size="14.30">−</text>
<text transform="translate(147.69 -6.70) scale(0.9705 1.0000)" font-family="'Liberation Serif', serif" font-weight="bold" font-size="14.30">1</text>
<text transform="translate(166.72 0.00) scale(1.1600 1.0000)" font-family="'Liberation Serif', serif" font-size="23.20" letter-spacing="1.754">sr</text>
<text transform="translate(190.52 -6.70) scale(1.0377 1.0000)" font-family="'Liberation Serif', serif" font-weight="bold" font-size="14.30">−</text>
<text transform="translate(200.31 -6.70) scale(0.9514 1.0000)" font-family="'Liberation Serif', serif" font-weight="bold" font-size="14.30">1</text>
<text transform="translate(219.53 0.00) scale(0.9349 1.0000)" font-family="'Liberation Serif', serif" font-size="23.20">GeV</text>
<text transform="translate(261.31 -6.70) scale(1.0527 1.0000)" font-family="'Liberation Serif', serif" font-weight="bold" font-size="14.30">−</text>
<text transform="translate(271.94 -6.70) scale(0.8373 1.0000)" font-family="'Liberation Serif', serif" font-weight="bold" font-size="14.30">1</text>
<text transform="translate(280.21 0.75) scale(0.9048 1.0000)" font-family="'Liberation Serif', serif" font-size="28.00">]</text>
</g>
</svg>
</body></html>
